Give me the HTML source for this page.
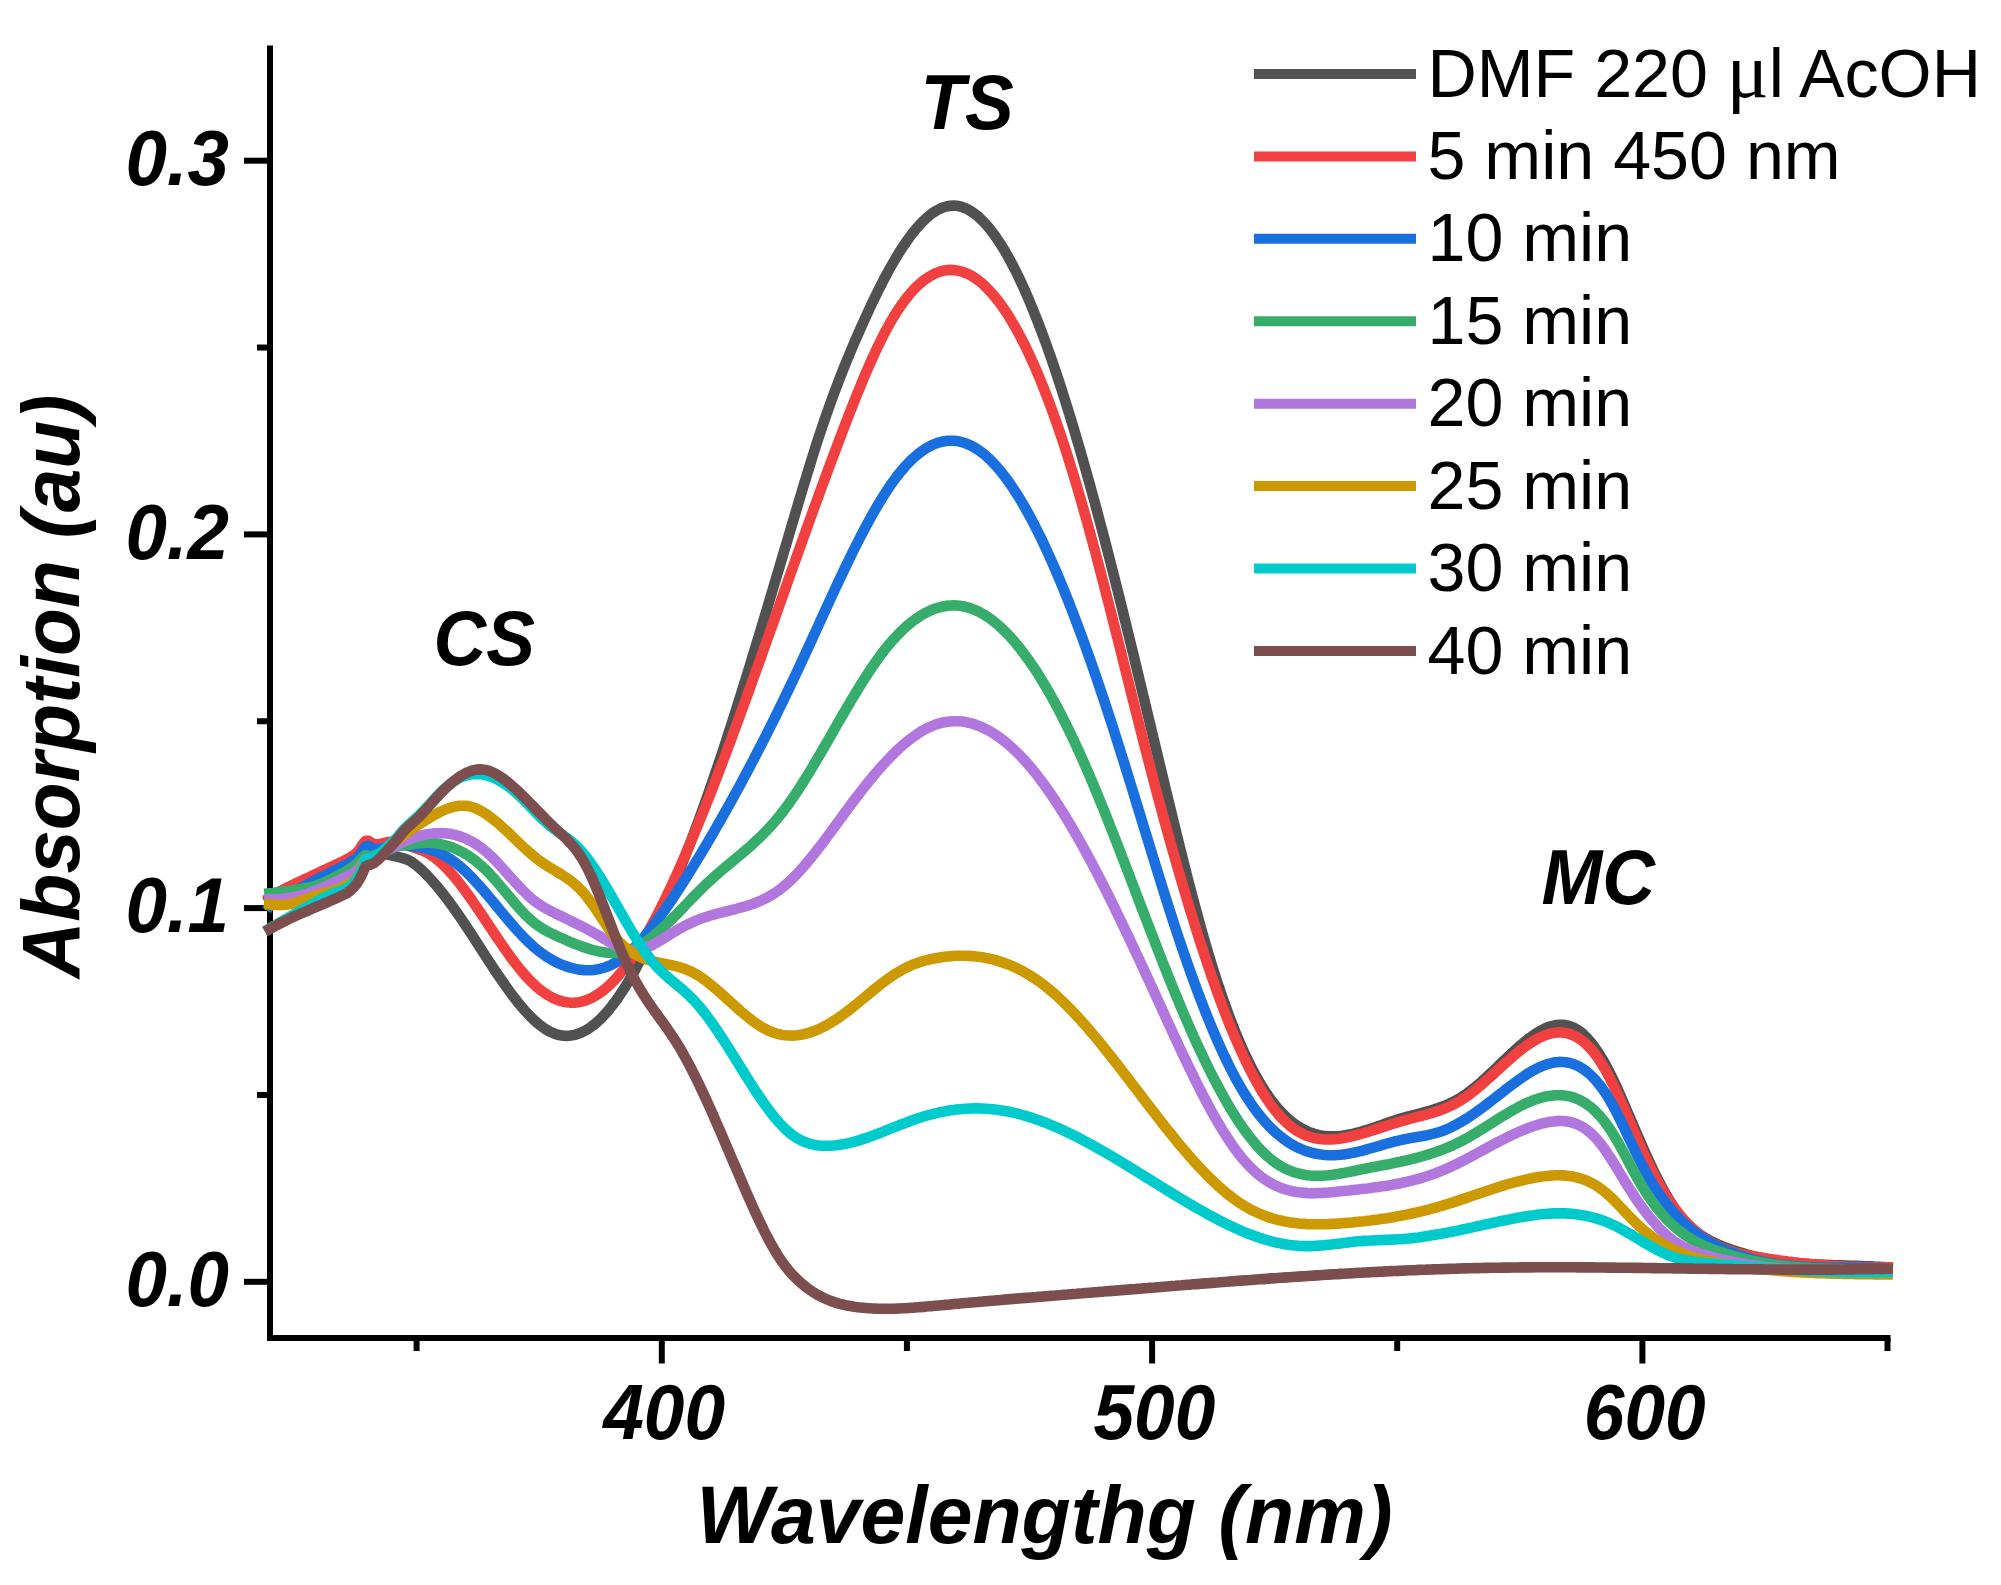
<!DOCTYPE html>
<html><head><meta charset="utf-8"><title>Absorption spectra</title>
<style>
html,body{margin:0;padding:0;background:#fff;}
svg{display:block;}
text{font-family:"Liberation Sans",sans-serif;fill:#000;}
.bi{font-weight:bold;font-style:italic;}
.tick{font-size:73px;}
.title{font-size:80px;}
.ann{font-size:73px;}
.leg{font-size:68.2px;}
.mu{font-family:"Liberation Serif",serif;}
.c{fill:none;stroke-width:10.6;stroke-linecap:square;stroke-linejoin:round;}
</style></head><body>
<svg width="2001" height="1585" viewBox="0 0 2001 1585">
<rect width="2001" height="1585" fill="#fff"/>

<g stroke="#000" stroke-width="6" fill="none" stroke-linecap="butt">
<path d="M270 45.5 V1341.0"/>
<path d="M267.0 1338 H1890.5"/>
<path d="M244 1281.8 H270"/>
<path d="M244 908.0999999999999 H270"/>
<path d="M244 534.4 H270"/>
<path d="M244 160.70000000000005 H270"/>
<path d="M257 1094.95 H270"/>
<path d="M257 721.2499999999999 H270"/>
<path d="M257 347.54999999999995 H270"/>
<path d="M661.8 1338 V1363.5"/>
<path d="M1152.1 1338 V1363.5"/>
<path d="M1642.4 1338 V1363.5"/>
<path d="M416.6 1338 V1351"/>
<path d="M906.9 1338 V1351"/>
<path d="M1397.2 1338 V1351"/>
<path d="M1887.5 1338 V1351"/>
</g>
<text class="bi" font-size="74.5" transform="translate(229 1306.1) scale(1 1.04)" text-anchor="end">0.0</text>
<text class="bi" font-size="74.5" transform="translate(229 932.4) scale(1 1.04)" text-anchor="end">0.1</text>
<text class="bi" font-size="74.5" transform="translate(229 558.7) scale(1 1.04)" text-anchor="end">0.2</text>
<text class="bi" font-size="74.5" transform="translate(229 185.0) scale(1 1.04)" text-anchor="end">0.3</text>
<text class="bi" font-size="73" transform="translate(664.1 1438.5) scale(1 1.06)" text-anchor="middle">400</text>
<text class="bi" font-size="73" transform="translate(1154.4 1438.5) scale(1 1.06)" text-anchor="middle">500</text>
<text class="bi" font-size="73" transform="translate(1644.7 1438.5) scale(1 1.06)" text-anchor="middle">600</text>
<text class="bi" font-size="80.5" transform="translate(1044.5 1543.2) scale(1 1.01)" text-anchor="middle">Wavelengthg (nm)</text>
<text class="bi" font-size="78.4" transform="translate(78.5 686.5) rotate(-90) scale(1 1.03)" text-anchor="middle">Absorption (au)</text>
<path class="c" stroke="#515151" d="M269.5 900.0 L272.5 898.4 L275.5 896.9 L278.5 895.6 L281.5 894.4 L284.5 893.5 L287.5 892.7 L290.5 891.8 L293.5 890.8 L296.5 889.5 L299.5 888.2 L302.5 886.8 L305.5 885.5 L308.5 884.2 L311.5 882.8 L314.5 881.5 L317.5 880.2 L320.5 878.8 L323.5 877.5 L326.5 876.1 L329.5 874.8 L332.5 873.5 L335.5 872.1 L338.5 870.8 L341.5 869.4 L344.5 868.0 L347.5 866.5 L350.5 865.0 L353.5 863.4 L356.5 861.7 L359.5 859.3 L362.5 856.5 L365.5 853.2 L368.5 852.9 L371.5 853.5 L374.5 853.5 L377.5 853.4 L380.5 853.4 L383.5 853.8 L386.5 854.4 L389.5 855.0 L392.5 855.6 L395.5 856.3 L398.5 857.0 L401.5 857.8 L404.5 858.7 L407.5 859.8 L410.5 861.3 L413.5 863.2 L416.5 865.4 L419.5 868.0 L422.5 870.7 L425.5 873.6 L428.5 876.7 L431.5 880.0 L434.5 883.4 L437.5 886.9 L440.5 890.6 L443.5 894.4 L446.5 898.3 L449.5 902.3 L452.5 906.4 L455.5 910.6 L458.5 914.9 L461.5 919.3 L464.5 923.8 L467.5 928.3 L470.5 932.8 L473.5 937.4 L476.5 942.0 L479.5 946.7 L482.5 951.3 L485.5 956.0 L488.5 960.6 L491.5 965.2 L494.5 969.7 L497.5 974.2 L500.5 978.6 L503.5 982.9 L506.5 987.2 L509.5 991.3 L512.5 995.4 L515.5 999.3 L518.5 1003.1 L521.5 1006.7 L524.5 1010.2 L527.5 1013.5 L530.5 1016.6 L533.5 1019.5 L536.5 1022.2 L539.5 1024.8 L542.5 1027.0 L545.5 1029.1 L548.5 1030.9 L551.5 1032.4 L554.5 1033.7 L557.5 1034.7 L560.5 1035.3 L563.5 1035.8 L566.5 1035.9 L569.5 1035.7 L572.5 1035.3 L575.5 1034.6 L578.5 1033.7 L581.5 1032.5 L584.5 1031.0 L587.5 1029.3 L590.5 1027.3 L593.5 1025.1 L596.5 1022.6 L599.5 1019.8 L602.5 1016.9 L605.5 1013.7 L608.5 1010.2 L611.5 1006.5 L614.5 1002.6 L617.5 998.5 L620.5 994.1 L623.5 989.5 L626.5 984.7 L629.5 979.7 L632.5 974.5 L635.5 969.1 L638.5 963.4 L641.5 957.6 L644.5 951.5 L647.5 945.3 L650.5 938.9 L653.5 932.3 L656.5 925.6 L659.5 918.8 L662.5 911.8 L665.5 904.7 L668.5 897.5 L671.5 890.2 L674.5 882.8 L677.5 875.4 L680.5 867.9 L683.5 860.3 L686.5 852.6 L689.5 844.8 L692.5 836.9 L695.5 828.9 L698.5 820.8 L701.5 812.6 L704.5 804.3 L707.5 795.9 L710.5 787.3 L713.5 778.6 L716.5 769.8 L719.5 760.9 L722.5 751.9 L725.5 742.8 L728.5 733.5 L731.5 724.2 L734.5 714.9 L737.5 705.4 L740.5 695.8 L743.5 686.2 L746.5 676.5 L749.5 666.8 L752.5 656.9 L755.5 647.1 L758.5 637.2 L761.5 627.2 L764.5 617.2 L767.5 607.2 L770.5 597.1 L773.5 587.1 L776.5 577.0 L779.5 566.8 L782.5 556.7 L785.5 546.6 L788.5 536.5 L791.5 526.3 L794.5 516.2 L797.5 506.1 L800.5 496.1 L803.5 486.1 L806.5 476.2 L809.5 466.4 L812.5 456.7 L815.5 447.2 L818.5 437.9 L821.5 428.9 L824.5 420.0 L827.5 411.4 L830.5 403.0 L833.5 394.8 L836.5 386.8 L839.5 378.9 L842.5 371.3 L845.5 363.8 L848.5 356.5 L851.5 349.3 L854.5 342.2 L857.5 335.3 L860.5 328.5 L863.5 321.8 L866.5 315.2 L869.5 308.7 L872.5 302.3 L875.5 296.1 L878.5 290.0 L881.5 284.1 L884.5 278.3 L887.5 272.7 L890.5 267.3 L893.5 262.0 L896.5 256.9 L899.5 252.0 L902.5 247.3 L905.5 242.9 L908.5 238.6 L911.5 234.6 L914.5 230.8 L917.5 227.2 L920.5 223.9 L923.5 220.8 L926.5 218.0 L929.5 215.4 L932.5 213.1 L935.5 211.2 L938.5 209.5 L941.5 208.1 L944.5 207.0 L947.5 206.2 L950.5 205.7 L953.5 205.6 L956.5 205.8 L959.5 206.3 L962.5 207.2 L965.5 208.3 L968.5 209.8 L971.5 211.6 L974.5 213.7 L977.5 216.0 L980.5 218.7 L983.5 221.7 L986.5 225.0 L989.5 228.5 L992.5 232.4 L995.5 236.5 L998.5 240.9 L1001.5 245.5 L1004.5 250.4 L1007.5 255.6 L1010.5 261.1 L1013.5 266.8 L1016.5 272.7 L1019.5 278.9 L1022.5 285.3 L1025.5 292.0 L1028.5 298.9 L1031.5 306.0 L1034.5 313.4 L1037.5 321.0 L1040.5 328.8 L1043.5 336.8 L1046.5 345.0 L1049.5 353.5 L1052.5 362.1 L1055.5 370.9 L1058.5 380.0 L1061.5 389.2 L1064.5 398.6 L1067.5 408.1 L1070.5 417.9 L1073.5 427.8 L1076.5 437.9 L1079.5 448.1 L1082.5 458.5 L1085.5 469.1 L1088.5 479.8 L1091.5 490.6 L1094.5 501.6 L1097.5 512.8 L1100.5 524.0 L1103.5 535.4 L1106.5 546.9 L1109.5 558.5 L1112.5 570.2 L1115.5 582.1 L1118.5 594.0 L1121.5 606.1 L1124.5 618.2 L1127.5 630.4 L1130.5 642.7 L1133.5 655.0 L1136.5 667.5 L1139.5 679.9 L1142.5 692.4 L1145.5 704.9 L1148.5 717.5 L1151.5 730.0 L1154.5 742.5 L1157.5 755.1 L1160.5 767.6 L1163.5 780.1 L1166.5 792.5 L1169.5 804.9 L1172.5 817.3 L1175.5 829.6 L1178.5 841.7 L1181.5 853.8 L1184.5 865.7 L1187.5 877.5 L1190.5 889.1 L1193.5 900.5 L1196.5 911.7 L1199.5 922.7 L1202.5 933.4 L1205.5 943.9 L1208.5 954.1 L1211.5 964.0 L1214.5 973.5 L1217.5 982.8 L1220.5 991.8 L1223.5 1000.5 L1226.5 1008.9 L1229.5 1017.0 L1232.5 1024.9 L1235.5 1032.4 L1238.5 1039.6 L1241.5 1046.6 L1244.5 1053.2 L1247.5 1059.6 L1250.5 1065.7 L1253.5 1071.5 L1256.5 1077.0 L1259.5 1082.2 L1262.5 1087.2 L1265.5 1091.9 L1268.5 1096.3 L1271.5 1100.4 L1274.5 1104.3 L1277.5 1107.9 L1280.5 1111.3 L1283.5 1114.4 L1286.5 1117.3 L1289.5 1119.9 L1292.5 1122.4 L1295.5 1124.6 L1298.5 1126.6 L1301.5 1128.4 L1304.5 1130.0 L1307.5 1131.4 L1310.5 1132.6 L1313.5 1133.6 L1316.5 1134.4 L1319.5 1135.1 L1322.5 1135.7 L1325.5 1136.0 L1328.5 1136.3 L1331.5 1136.4 L1334.5 1136.3 L1337.5 1136.2 L1340.5 1135.9 L1343.5 1135.6 L1346.5 1135.1 L1349.5 1134.6 L1352.5 1133.9 L1355.5 1133.2 L1358.5 1132.4 L1361.5 1131.6 L1364.5 1130.7 L1367.5 1129.8 L1370.5 1128.8 L1373.5 1127.8 L1376.5 1126.8 L1379.5 1125.7 L1382.5 1124.7 L1385.5 1123.6 L1388.5 1122.6 L1391.5 1121.6 L1394.5 1120.6 L1397.5 1119.6 L1400.5 1118.7 L1403.5 1117.8 L1406.5 1116.9 L1409.5 1116.1 L1412.5 1115.3 L1415.5 1114.6 L1418.5 1113.8 L1421.5 1113.0 L1424.5 1112.2 L1427.5 1111.4 L1430.5 1110.5 L1433.5 1109.6 L1436.5 1108.7 L1439.5 1107.6 L1442.5 1106.5 L1445.5 1105.3 L1448.5 1104.0 L1451.5 1102.7 L1454.5 1101.1 L1457.5 1099.5 L1460.5 1097.7 L1463.5 1095.8 L1466.5 1093.8 L1469.5 1091.6 L1472.5 1089.2 L1475.5 1086.8 L1478.5 1084.3 L1481.5 1081.7 L1484.5 1079.0 L1487.5 1076.2 L1490.5 1073.4 L1493.5 1070.6 L1496.5 1067.7 L1499.5 1064.8 L1502.5 1061.9 L1505.5 1059.1 L1508.5 1056.2 L1511.5 1053.4 L1514.5 1050.7 L1517.5 1048.0 L1520.5 1045.3 L1523.5 1042.8 L1526.5 1040.4 L1529.5 1038.0 L1532.5 1035.9 L1535.5 1033.8 L1538.5 1031.9 L1541.5 1030.2 L1544.5 1028.7 L1547.5 1027.4 L1550.5 1026.4 L1553.5 1025.6 L1556.5 1025.0 L1559.5 1024.7 L1562.5 1024.8 L1565.5 1025.1 L1568.5 1025.7 L1571.5 1026.7 L1574.5 1028.1 L1577.5 1029.8 L1580.5 1031.9 L1583.5 1034.4 L1586.5 1037.4 L1589.5 1040.7 L1592.5 1044.4 L1595.5 1048.4 L1598.5 1052.9 L1601.5 1057.7 L1604.5 1062.8 L1607.5 1068.3 L1610.5 1074.2 L1613.5 1080.4 L1616.5 1086.8 L1619.5 1093.5 L1622.5 1100.4 L1625.5 1107.4 L1628.5 1114.4 L1631.5 1121.4 L1634.5 1128.4 L1637.5 1135.3 L1640.5 1142.1 L1643.5 1148.9 L1646.5 1155.6 L1649.5 1162.1 L1652.5 1168.5 L1655.5 1174.7 L1658.5 1180.6 L1661.5 1186.4 L1664.5 1191.9 L1667.5 1197.1 L1670.5 1202.1 L1673.5 1206.7 L1676.5 1211.0 L1679.5 1215.0 L1682.5 1218.6 L1685.5 1222.0 L1688.5 1225.1 L1691.5 1227.9 L1694.5 1230.5 L1697.5 1232.8 L1700.5 1235.0 L1703.5 1236.9 L1706.5 1238.7 L1709.5 1240.4 L1712.5 1241.9 L1715.5 1243.3 L1718.5 1244.7 L1721.5 1245.9 L1724.5 1247.1 L1727.5 1248.3 L1730.5 1249.3 L1733.5 1250.4 L1736.5 1251.4 L1739.5 1252.3 L1742.5 1253.2 L1745.5 1254.1 L1748.5 1254.9 L1751.5 1255.7 L1754.5 1256.4 L1757.5 1257.1 L1760.5 1257.7 L1763.5 1258.3 L1766.5 1258.9 L1769.5 1259.5 L1772.5 1260.0 L1775.5 1260.5 L1778.5 1260.9 L1781.5 1261.3 L1784.5 1261.7 L1787.5 1262.1 L1790.5 1262.4 L1793.5 1262.7 L1796.5 1263.0 L1799.5 1263.3 L1802.5 1263.5 L1805.5 1263.7 L1808.5 1264.0 L1811.5 1264.2 L1814.5 1264.3 L1817.5 1264.5 L1820.5 1264.6 L1823.5 1264.8 L1826.5 1264.9 L1829.5 1265.0 L1832.5 1265.1 L1835.5 1265.2 L1838.5 1265.3 L1841.5 1265.4 L1844.5 1265.5 L1847.5 1265.6 L1850.5 1265.7 L1853.5 1265.8 L1856.5 1265.9 L1859.5 1266.0 L1862.5 1266.1 L1865.5 1266.2 L1868.5 1266.3 L1871.5 1266.4 L1874.5 1266.6 L1877.5 1266.7 L1880.5 1266.9 L1883.5 1267.0 L1886.5 1267.2 L1887.6 1267.3"/>
<path class="c" stroke="#F14040" d="M269.5 897.5 L272.5 895.5 L275.5 893.7 L278.5 892.0 L281.5 890.5 L284.5 889.0 L287.5 887.4 L290.5 886.0 L293.5 884.5 L296.5 883.1 L299.5 881.7 L302.5 880.3 L305.5 878.9 L308.5 877.5 L311.5 876.0 L314.5 874.6 L317.5 873.2 L320.5 871.8 L323.5 870.4 L326.5 869.0 L329.5 867.6 L332.5 866.2 L335.5 864.8 L338.5 863.4 L341.5 862.0 L344.5 860.6 L347.5 859.0 L350.5 857.2 L353.5 855.2 L356.5 853.0 L359.5 849.5 L362.5 844.5 L365.5 840.7 L368.5 840.9 L371.5 842.8 L374.5 844.3 L377.5 844.3 L380.5 844.0 L383.5 843.1 L386.5 842.3 L389.5 841.9 L392.5 841.8 L395.5 842.1 L398.5 842.6 L401.5 843.3 L404.5 844.3 L407.5 845.4 L410.5 846.5 L413.5 847.5 L416.5 848.5 L419.5 849.5 L422.5 850.6 L425.5 851.9 L428.5 853.5 L431.5 855.4 L434.5 857.5 L437.5 859.9 L440.5 862.4 L443.5 865.2 L446.5 868.2 L449.5 871.4 L452.5 874.8 L455.5 878.3 L458.5 882.0 L461.5 885.9 L464.5 889.9 L467.5 894.0 L470.5 898.2 L473.5 902.5 L476.5 906.9 L479.5 911.3 L482.5 915.8 L485.5 920.3 L488.5 924.8 L491.5 929.3 L494.5 933.8 L497.5 938.2 L500.5 942.6 L503.5 947.0 L506.5 951.3 L509.5 955.5 L512.5 959.5 L515.5 963.5 L518.5 967.3 L521.5 971.0 L524.5 974.5 L527.5 977.9 L530.5 981.0 L533.5 983.9 L536.5 986.7 L539.5 989.2 L542.5 991.5 L545.5 993.6 L548.5 995.5 L551.5 997.2 L554.5 998.7 L557.5 999.9 L560.5 1000.9 L563.5 1001.7 L566.5 1002.3 L569.5 1002.6 L572.5 1002.7 L575.5 1002.6 L578.5 1002.2 L581.5 1001.6 L584.5 1000.8 L587.5 999.7 L590.5 998.4 L593.5 996.9 L596.5 995.2 L599.5 993.2 L602.5 991.0 L605.5 988.6 L608.5 986.0 L611.5 983.1 L614.5 980.1 L617.5 976.8 L620.5 973.3 L623.5 969.5 L626.5 965.6 L629.5 961.5 L632.5 957.1 L635.5 952.6 L638.5 947.9 L641.5 943.0 L644.5 938.0 L647.5 932.8 L650.5 927.4 L653.5 921.9 L656.5 916.2 L659.5 910.4 L662.5 904.4 L665.5 898.3 L668.5 892.1 L671.5 885.7 L674.5 879.2 L677.5 872.6 L680.5 865.9 L683.5 859.1 L686.5 852.2 L689.5 845.1 L692.5 838.0 L695.5 830.8 L698.5 823.5 L701.5 816.1 L704.5 808.6 L707.5 801.1 L710.5 793.5 L713.5 785.8 L716.5 778.0 L719.5 770.2 L722.5 762.3 L725.5 754.4 L728.5 746.4 L731.5 738.3 L734.5 730.2 L737.5 722.1 L740.5 713.9 L743.5 705.7 L746.5 697.4 L749.5 689.1 L752.5 680.8 L755.5 672.5 L758.5 664.1 L761.5 655.7 L764.5 647.3 L767.5 638.8 L770.5 630.4 L773.5 621.9 L776.5 613.5 L779.5 605.0 L782.5 596.6 L785.5 588.1 L788.5 579.6 L791.5 571.2 L794.5 562.7 L797.5 554.3 L800.5 545.9 L803.5 537.5 L806.5 529.1 L809.5 520.8 L812.5 512.5 L815.5 504.2 L818.5 496.0 L821.5 487.7 L824.5 479.6 L827.5 471.4 L830.5 463.4 L833.5 455.3 L836.5 447.3 L839.5 439.4 L842.5 431.5 L845.5 423.7 L848.5 415.9 L851.5 408.3 L854.5 400.7 L857.5 393.2 L860.5 385.9 L863.5 378.6 L866.5 371.6 L869.5 364.7 L872.5 358.0 L875.5 351.4 L878.5 345.1 L881.5 339.0 L884.5 333.1 L887.5 327.5 L890.5 322.2 L893.5 317.1 L896.5 312.3 L899.5 307.7 L902.5 303.4 L905.5 299.4 L908.5 295.6 L911.5 292.1 L914.5 288.8 L917.5 285.8 L920.5 283.1 L923.5 280.6 L926.5 278.4 L929.5 276.5 L932.5 274.8 L935.5 273.3 L938.5 272.1 L941.5 271.2 L944.5 270.5 L947.5 270.1 L950.5 269.9 L953.5 270.0 L956.5 270.4 L959.5 271.0 L962.5 271.8 L965.5 272.9 L968.5 274.3 L971.5 275.8 L974.5 277.7 L977.5 279.8 L980.5 282.1 L983.5 284.7 L986.5 287.6 L989.5 290.7 L992.5 294.0 L995.5 297.6 L998.5 301.4 L1001.5 305.5 L1004.5 309.8 L1007.5 314.3 L1010.5 319.1 L1013.5 324.2 L1016.5 329.4 L1019.5 335.0 L1022.5 340.7 L1025.5 346.7 L1028.5 353.0 L1031.5 359.5 L1034.5 366.2 L1037.5 373.1 L1040.5 380.3 L1043.5 387.8 L1046.5 395.5 L1049.5 403.4 L1052.5 411.5 L1055.5 419.9 L1058.5 428.5 L1061.5 437.3 L1064.5 446.4 L1067.5 455.7 L1070.5 465.3 L1073.5 475.0 L1076.5 485.0 L1079.5 495.3 L1082.5 505.7 L1085.5 516.3 L1088.5 527.1 L1091.5 538.1 L1094.5 549.2 L1097.5 560.5 L1100.5 571.9 L1103.5 583.5 L1106.5 595.1 L1109.5 606.8 L1112.5 618.6 L1115.5 630.4 L1118.5 642.3 L1121.5 654.3 L1124.5 666.2 L1127.5 678.2 L1130.5 690.1 L1133.5 702.1 L1136.5 714.0 L1139.5 725.8 L1142.5 737.6 L1145.5 749.4 L1148.5 761.0 L1151.5 772.5 L1154.5 784.0 L1157.5 795.3 L1160.5 806.4 L1163.5 817.5 L1166.5 828.4 L1169.5 839.2 L1172.5 849.9 L1175.5 860.4 L1178.5 870.8 L1181.5 881.1 L1184.5 891.2 L1187.5 901.2 L1190.5 911.1 L1193.5 920.8 L1196.5 930.4 L1199.5 939.8 L1202.5 949.1 L1205.5 958.2 L1208.5 967.1 L1211.5 975.8 L1214.5 984.4 L1217.5 992.8 L1220.5 1000.9 L1223.5 1008.9 L1226.5 1016.6 L1229.5 1024.2 L1232.5 1031.5 L1235.5 1038.6 L1238.5 1045.5 L1241.5 1052.1 L1244.5 1058.5 L1247.5 1064.7 L1250.5 1070.7 L1253.5 1076.4 L1256.5 1081.9 L1259.5 1087.2 L1262.5 1092.2 L1265.5 1096.9 L1268.5 1101.4 L1271.5 1105.7 L1274.5 1109.6 L1277.5 1113.3 L1280.5 1116.8 L1283.5 1119.9 L1286.5 1122.8 L1289.5 1125.4 L1292.5 1127.8 L1295.5 1129.9 L1298.5 1131.7 L1301.5 1133.4 L1304.5 1134.8 L1307.5 1136.0 L1310.5 1137.0 L1313.5 1137.8 L1316.5 1138.5 L1319.5 1139.0 L1322.5 1139.3 L1325.5 1139.5 L1328.5 1139.5 L1331.5 1139.4 L1334.5 1139.2 L1337.5 1138.9 L1340.5 1138.5 L1343.5 1138.0 L1346.5 1137.5 L1349.5 1136.8 L1352.5 1136.1 L1355.5 1135.4 L1358.5 1134.6 L1361.5 1133.7 L1364.5 1132.9 L1367.5 1132.0 L1370.5 1131.0 L1373.5 1130.1 L1376.5 1129.1 L1379.5 1128.1 L1382.5 1127.1 L1385.5 1126.1 L1388.5 1125.2 L1391.5 1124.2 L1394.5 1123.3 L1397.5 1122.3 L1400.5 1121.4 L1403.5 1120.6 L1406.5 1119.8 L1409.5 1119.0 L1412.5 1118.2 L1415.5 1117.4 L1418.5 1116.7 L1421.5 1115.9 L1424.5 1115.1 L1427.5 1114.2 L1430.5 1113.4 L1433.5 1112.5 L1436.5 1111.5 L1439.5 1110.4 L1442.5 1109.3 L1445.5 1108.1 L1448.5 1106.8 L1451.5 1105.4 L1454.5 1103.9 L1457.5 1102.3 L1460.5 1100.5 L1463.5 1098.6 L1466.5 1096.6 L1469.5 1094.4 L1472.5 1092.1 L1475.5 1089.8 L1478.5 1087.3 L1481.5 1084.7 L1484.5 1082.1 L1487.5 1079.4 L1490.5 1076.7 L1493.5 1074.0 L1496.5 1071.2 L1499.5 1068.5 L1502.5 1065.7 L1505.5 1063.0 L1508.5 1060.3 L1511.5 1057.7 L1514.5 1055.1 L1517.5 1052.6 L1520.5 1050.2 L1523.5 1047.9 L1526.5 1045.7 L1529.5 1043.6 L1532.5 1041.7 L1535.5 1039.9 L1538.5 1038.2 L1541.5 1036.8 L1544.5 1035.5 L1547.5 1034.4 L1550.5 1033.6 L1553.5 1032.9 L1556.5 1032.5 L1559.5 1032.4 L1562.5 1032.5 L1565.5 1032.9 L1568.5 1033.6 L1571.5 1034.6 L1574.5 1035.9 L1577.5 1037.5 L1580.5 1039.4 L1583.5 1041.7 L1586.5 1044.4 L1589.5 1047.4 L1592.5 1050.8 L1595.5 1054.6 L1598.5 1058.8 L1601.5 1063.4 L1604.5 1068.4 L1607.5 1073.8 L1610.5 1079.5 L1613.5 1085.5 L1616.5 1091.8 L1619.5 1098.3 L1622.5 1105.1 L1625.5 1111.9 L1628.5 1118.8 L1631.5 1125.8 L1634.5 1132.8 L1637.5 1139.7 L1640.5 1146.5 L1643.5 1153.1 L1646.5 1159.6 L1649.5 1165.8 L1652.5 1171.9 L1655.5 1177.7 L1658.5 1183.2 L1661.5 1188.4 L1664.5 1193.4 L1667.5 1198.1 L1670.5 1202.6 L1673.5 1206.8 L1676.5 1210.8 L1679.5 1214.6 L1682.5 1218.1 L1685.5 1221.5 L1688.5 1224.6 L1691.5 1227.5 L1694.5 1230.2 L1697.5 1232.8 L1700.5 1235.1 L1703.5 1237.3 L1706.5 1239.4 L1709.5 1241.3 L1712.5 1243.0 L1715.5 1244.6 L1718.5 1246.1 L1721.5 1247.5 L1724.5 1248.7 L1727.5 1249.9 L1730.5 1250.9 L1733.5 1251.9 L1736.5 1252.7 L1739.5 1253.5 L1742.5 1254.2 L1745.5 1254.9 L1748.5 1255.5 L1751.5 1256.1 L1754.5 1256.6 L1757.5 1257.1 L1760.5 1257.6 L1763.5 1258.1 L1766.5 1258.5 L1769.5 1259.0 L1772.5 1259.4 L1775.5 1259.8 L1778.5 1260.3 L1781.5 1260.7 L1784.5 1261.1 L1787.5 1261.5 L1790.5 1261.8 L1793.5 1262.2 L1796.5 1262.5 L1799.5 1262.9 L1802.5 1263.2 L1805.5 1263.5 L1808.5 1263.8 L1811.5 1264.1 L1814.5 1264.4 L1817.5 1264.7 L1820.5 1265.0 L1823.5 1265.2 L1826.5 1265.4 L1829.5 1265.7 L1832.5 1265.9 L1835.5 1266.1 L1838.5 1266.3 L1841.5 1266.4 L1844.5 1266.6 L1847.5 1266.7 L1850.5 1266.9 L1853.5 1267.0 L1856.5 1267.1 L1859.5 1267.2 L1862.5 1267.3 L1865.5 1267.3 L1868.5 1267.4 L1871.5 1267.4 L1874.5 1267.5 L1877.5 1267.5 L1880.5 1267.5 L1883.5 1267.4 L1886.5 1267.4 L1887.6 1267.4"/>
<path class="c" stroke="#1A6FDF" d="M269.5 906.0 L272.5 901.5 L275.5 898.9 L278.5 897.2 L281.5 895.9 L284.5 894.9 L287.5 894.0 L290.5 893.1 L293.5 891.9 L296.5 890.4 L299.5 888.8 L302.5 887.2 L305.5 885.5 L308.5 883.8 L311.5 882.2 L314.5 880.6 L317.5 879.0 L320.5 877.5 L323.5 876.1 L326.5 874.6 L329.5 873.1 L332.5 871.6 L335.5 870.1 L338.5 868.6 L341.5 867.1 L344.5 865.6 L347.5 863.9 L350.5 862.3 L353.5 860.5 L356.5 858.6 L359.5 855.1 L362.5 850.6 L365.5 846.5 L368.5 845.9 L371.5 847.9 L374.5 849.4 L377.5 849.1 L380.5 848.6 L383.5 847.8 L386.5 846.9 L389.5 846.1 L392.5 845.6 L395.5 845.2 L398.5 845.0 L401.5 845.0 L404.5 845.2 L407.5 845.5 L410.5 845.9 L413.5 846.3 L416.5 846.7 L419.5 847.1 L422.5 847.7 L425.5 848.3 L428.5 849.1 L431.5 849.9 L434.5 851.0 L437.5 852.1 L440.5 853.5 L443.5 855.0 L446.5 856.7 L449.5 858.5 L452.5 860.5 L455.5 862.7 L458.5 865.1 L461.5 867.6 L464.5 870.4 L467.5 873.2 L470.5 876.2 L473.5 879.4 L476.5 882.6 L479.5 885.9 L482.5 889.3 L485.5 892.8 L488.5 896.4 L491.5 899.9 L494.5 903.5 L497.5 907.2 L500.5 910.8 L503.5 914.4 L506.5 918.0 L509.5 921.5 L512.5 925.0 L515.5 928.4 L518.5 931.7 L521.5 935.0 L524.5 938.1 L527.5 941.1 L530.5 943.9 L533.5 946.7 L536.5 949.2 L539.5 951.6 L542.5 953.8 L545.5 955.9 L548.5 957.8 L551.5 959.6 L554.5 961.3 L557.5 962.8 L560.5 964.1 L563.5 965.3 L566.5 966.4 L569.5 967.4 L572.5 968.2 L575.5 968.9 L578.5 969.5 L581.5 969.9 L584.5 970.1 L587.5 970.2 L590.5 970.2 L593.5 969.9 L596.5 969.5 L599.5 969.0 L602.5 968.2 L605.5 967.2 L608.5 966.1 L611.5 964.7 L614.5 963.1 L617.5 961.3 L620.5 959.3 L623.5 957.1 L626.5 954.6 L629.5 952.0 L632.5 949.2 L635.5 946.3 L638.5 943.1 L641.5 939.8 L644.5 936.4 L647.5 932.8 L650.5 929.1 L653.5 925.3 L656.5 921.3 L659.5 917.3 L662.5 913.1 L665.5 908.9 L668.5 904.6 L671.5 900.2 L674.5 895.7 L677.5 891.1 L680.5 886.5 L683.5 881.8 L686.5 877.1 L689.5 872.3 L692.5 867.5 L695.5 862.6 L698.5 857.7 L701.5 852.7 L704.5 847.7 L707.5 842.6 L710.5 837.5 L713.5 832.4 L716.5 827.2 L719.5 822.0 L722.5 816.7 L725.5 811.4 L728.5 806.0 L731.5 800.6 L734.5 795.2 L737.5 789.7 L740.5 784.2 L743.5 778.6 L746.5 773.0 L749.5 767.3 L752.5 761.6 L755.5 755.8 L758.5 750.0 L761.5 744.2 L764.5 738.3 L767.5 732.4 L770.5 726.4 L773.5 720.4 L776.5 714.3 L779.5 708.2 L782.5 702.1 L785.5 695.9 L788.5 689.6 L791.5 683.4 L794.5 677.0 L797.5 670.7 L800.5 664.2 L803.5 657.8 L806.5 651.3 L809.5 644.8 L812.5 638.2 L815.5 631.6 L818.5 625.1 L821.5 618.5 L824.5 611.9 L827.5 605.4 L830.5 598.9 L833.5 592.4 L836.5 585.9 L839.5 579.5 L842.5 573.2 L845.5 566.9 L848.5 560.7 L851.5 554.5 L854.5 548.5 L857.5 542.5 L860.5 536.6 L863.5 530.9 L866.5 525.2 L869.5 519.7 L872.5 514.3 L875.5 509.1 L878.5 504.0 L881.5 499.1 L884.5 494.3 L887.5 489.7 L890.5 485.2 L893.5 481.0 L896.5 476.9 L899.5 473.1 L902.5 469.5 L905.5 466.0 L908.5 462.8 L911.5 459.8 L914.5 457.1 L917.5 454.5 L920.5 452.1 L923.5 450.0 L926.5 448.1 L929.5 446.4 L932.5 444.9 L935.5 443.7 L938.5 442.6 L941.5 441.8 L944.5 441.2 L947.5 440.8 L950.5 440.7 L953.5 440.8 L956.5 441.1 L959.5 441.6 L962.5 442.3 L965.5 443.3 L968.5 444.5 L971.5 445.9 L974.5 447.5 L977.5 449.4 L980.5 451.5 L983.5 453.8 L986.5 456.3 L989.5 459.1 L992.5 462.1 L995.5 465.3 L998.5 468.7 L1001.5 472.3 L1004.5 476.2 L1007.5 480.2 L1010.5 484.4 L1013.5 488.9 L1016.5 493.5 L1019.5 498.3 L1022.5 503.3 L1025.5 508.5 L1028.5 513.9 L1031.5 519.5 L1034.5 525.2 L1037.5 531.1 L1040.5 537.2 L1043.5 543.4 L1046.5 549.9 L1049.5 556.4 L1052.5 563.2 L1055.5 570.0 L1058.5 577.1 L1061.5 584.2 L1064.5 591.6 L1067.5 599.0 L1070.5 606.6 L1073.5 614.4 L1076.5 622.3 L1079.5 630.3 L1082.5 638.4 L1085.5 646.7 L1088.5 655.1 L1091.5 663.6 L1094.5 672.2 L1097.5 680.9 L1100.5 689.8 L1103.5 698.7 L1106.5 707.8 L1109.5 717.0 L1112.5 726.2 L1115.5 735.6 L1118.5 745.1 L1121.5 754.6 L1124.5 764.2 L1127.5 773.8 L1130.5 783.5 L1133.5 793.3 L1136.5 803.1 L1139.5 812.9 L1142.5 822.7 L1145.5 832.5 L1148.5 842.3 L1151.5 852.1 L1154.5 861.8 L1157.5 871.5 L1160.5 881.2 L1163.5 890.8 L1166.5 900.3 L1169.5 909.8 L1172.5 919.1 L1175.5 928.3 L1178.5 937.4 L1181.5 946.3 L1184.5 955.1 L1187.5 963.7 L1190.5 972.1 L1193.5 980.4 L1196.5 988.6 L1199.5 996.5 L1202.5 1004.3 L1205.5 1012.0 L1208.5 1019.4 L1211.5 1026.7 L1214.5 1033.9 L1217.5 1040.8 L1220.5 1047.5 L1223.5 1054.1 L1226.5 1060.4 L1229.5 1066.5 L1232.5 1072.4 L1235.5 1078.1 L1238.5 1083.5 L1241.5 1088.7 L1244.5 1093.7 L1247.5 1098.4 L1250.5 1102.9 L1253.5 1107.2 L1256.5 1111.3 L1259.5 1115.1 L1262.5 1118.8 L1265.5 1122.2 L1268.5 1125.5 L1271.5 1128.5 L1274.5 1131.4 L1277.5 1134.0 L1280.5 1136.5 L1283.5 1138.8 L1286.5 1141.0 L1289.5 1143.0 L1292.5 1144.8 L1295.5 1146.4 L1298.5 1147.9 L1301.5 1149.2 L1304.5 1150.4 L1307.5 1151.5 L1310.5 1152.4 L1313.5 1153.2 L1316.5 1153.8 L1319.5 1154.3 L1322.5 1154.7 L1325.5 1155.0 L1328.5 1155.2 L1331.5 1155.2 L1334.5 1155.2 L1337.5 1155.0 L1340.5 1154.8 L1343.5 1154.4 L1346.5 1154.0 L1349.5 1153.5 L1352.5 1152.9 L1355.5 1152.3 L1358.5 1151.6 L1361.5 1150.9 L1364.5 1150.1 L1367.5 1149.2 L1370.5 1148.4 L1373.5 1147.5 L1376.5 1146.6 L1379.5 1145.8 L1382.5 1144.9 L1385.5 1144.0 L1388.5 1143.1 L1391.5 1142.3 L1394.5 1141.5 L1397.5 1140.8 L1400.5 1140.1 L1403.5 1139.5 L1406.5 1138.9 L1409.5 1138.3 L1412.5 1137.8 L1415.5 1137.3 L1418.5 1136.8 L1421.5 1136.3 L1424.5 1135.7 L1427.5 1135.1 L1430.5 1134.4 L1433.5 1133.7 L1436.5 1132.9 L1439.5 1132.0 L1442.5 1130.9 L1445.5 1129.8 L1448.5 1128.5 L1451.5 1127.1 L1454.5 1125.6 L1457.5 1123.9 L1460.5 1122.2 L1463.5 1120.4 L1466.5 1118.6 L1469.5 1116.6 L1472.5 1114.6 L1475.5 1112.5 L1478.5 1110.4 L1481.5 1108.2 L1484.5 1106.0 L1487.5 1103.7 L1490.5 1101.4 L1493.5 1099.1 L1496.5 1096.8 L1499.5 1094.4 L1502.5 1092.1 L1505.5 1089.8 L1508.5 1087.4 L1511.5 1085.1 L1514.5 1082.9 L1517.5 1080.7 L1520.5 1078.6 L1523.5 1076.5 L1526.5 1074.5 L1529.5 1072.6 L1532.5 1070.9 L1535.5 1069.2 L1538.5 1067.7 L1541.5 1066.4 L1544.5 1065.2 L1547.5 1064.1 L1550.5 1063.3 L1553.5 1062.6 L1556.5 1062.2 L1559.5 1061.9 L1562.5 1062.0 L1565.5 1062.2 L1568.5 1062.7 L1571.5 1063.4 L1574.5 1064.5 L1577.5 1065.8 L1580.5 1067.4 L1583.5 1069.3 L1586.5 1071.5 L1589.5 1074.0 L1592.5 1076.8 L1595.5 1080.0 L1598.5 1083.6 L1601.5 1087.4 L1604.5 1091.7 L1607.5 1096.3 L1610.5 1101.3 L1613.5 1106.6 L1616.5 1112.3 L1619.5 1118.3 L1622.5 1124.5 L1625.5 1130.8 L1628.5 1137.2 L1631.5 1143.5 L1634.5 1149.8 L1637.5 1156.0 L1640.5 1162.0 L1643.5 1167.8 L1646.5 1173.3 L1649.5 1178.6 L1652.5 1183.6 L1655.5 1188.3 L1658.5 1192.9 L1661.5 1197.2 L1664.5 1201.3 L1667.5 1205.2 L1670.5 1208.9 L1673.5 1212.4 L1676.5 1215.7 L1679.5 1218.8 L1682.5 1221.8 L1685.5 1224.6 L1688.5 1227.2 L1691.5 1229.7 L1694.5 1232.1 L1697.5 1234.3 L1700.5 1236.4 L1703.5 1238.4 L1706.5 1240.3 L1709.5 1242.0 L1712.5 1243.7 L1715.5 1245.3 L1718.5 1246.8 L1721.5 1248.2 L1724.5 1249.6 L1727.5 1250.9 L1730.5 1252.1 L1733.5 1253.2 L1736.5 1254.3 L1739.5 1255.4 L1742.5 1256.4 L1745.5 1257.3 L1748.5 1258.2 L1751.5 1259.0 L1754.5 1259.8 L1757.5 1260.5 L1760.5 1261.2 L1763.5 1261.8 L1766.5 1262.4 L1769.5 1263.0 L1772.5 1263.5 L1775.5 1264.0 L1778.5 1264.4 L1781.5 1264.8 L1784.5 1265.1 L1787.5 1265.5 L1790.5 1265.8 L1793.5 1266.1 L1796.5 1266.3 L1799.5 1266.5 L1802.5 1266.7 L1805.5 1266.9 L1808.5 1267.0 L1811.5 1267.2 L1814.5 1267.3 L1817.5 1267.4 L1820.5 1267.5 L1823.5 1267.5 L1826.5 1267.6 L1829.5 1267.7 L1832.5 1267.7 L1835.5 1267.7 L1838.5 1267.8 L1841.5 1267.8 L1844.5 1267.8 L1847.5 1267.9 L1850.5 1267.9 L1853.5 1268.0 L1856.5 1268.0 L1859.5 1268.1 L1862.5 1268.1 L1865.5 1268.2 L1868.5 1268.3 L1871.5 1268.4 L1874.5 1268.5 L1877.5 1268.6 L1880.5 1268.8 L1883.5 1268.9 L1886.5 1269.1 L1887.6 1269.2"/>
<path class="c" stroke="#37AD6B" d="M269.5 893.3 L272.5 893.0 L275.5 892.6 L278.5 892.2 L281.5 891.8 L284.5 891.4 L287.5 891.0 L290.5 890.5 L293.5 890.1 L296.5 889.6 L299.5 889.2 L302.5 888.6 L305.5 888.1 L308.5 887.5 L311.5 886.8 L314.5 886.0 L317.5 885.1 L320.5 884.0 L323.5 882.7 L326.5 881.3 L329.5 879.8 L332.5 878.3 L335.5 876.8 L338.5 875.2 L341.5 873.7 L344.5 872.1 L347.5 870.4 L350.5 868.5 L353.5 866.4 L356.5 864.1 L359.5 860.8 L362.5 857.5 L365.5 855.2 L368.5 856.0 L371.5 856.2 L374.5 855.1 L377.5 854.0 L380.5 852.8 L383.5 851.6 L386.5 850.3 L389.5 849.0 L392.5 847.9 L395.5 846.8 L398.5 846.1 L401.5 845.5 L404.5 845.2 L407.5 844.8 L410.5 844.5 L413.5 844.0 L416.5 843.6 L419.5 843.2 L422.5 842.9 L425.5 842.7 L428.5 842.7 L431.5 842.9 L434.5 843.1 L437.5 843.6 L440.5 844.1 L443.5 844.8 L446.5 845.6 L449.5 846.5 L452.5 847.6 L455.5 848.8 L458.5 850.2 L461.5 851.7 L464.5 853.4 L467.5 855.2 L470.5 857.2 L473.5 859.3 L476.5 861.6 L479.5 864.1 L482.5 866.8 L485.5 869.6 L488.5 872.6 L491.5 875.8 L494.5 879.1 L497.5 882.6 L500.5 886.1 L503.5 889.7 L506.5 893.3 L509.5 896.9 L512.5 900.5 L515.5 904.0 L518.5 907.4 L521.5 910.7 L524.5 913.9 L527.5 916.9 L530.5 919.7 L533.5 922.3 L536.5 924.6 L539.5 926.7 L542.5 928.6 L545.5 930.4 L548.5 932.0 L551.5 933.5 L554.5 934.9 L557.5 936.3 L560.5 937.6 L563.5 938.9 L566.5 940.3 L569.5 941.6 L572.5 942.8 L575.5 944.1 L578.5 945.2 L581.5 946.4 L584.5 947.4 L587.5 948.4 L590.5 949.4 L593.5 950.2 L596.5 950.9 L599.5 951.6 L602.5 952.1 L605.5 952.5 L608.5 952.8 L611.5 953.0 L614.5 953.0 L617.5 952.8 L620.5 952.5 L623.5 951.9 L626.5 951.2 L629.5 950.3 L632.5 949.2 L635.5 947.8 L638.5 946.2 L641.5 944.5 L644.5 942.6 L647.5 940.5 L650.5 938.3 L653.5 935.9 L656.5 933.4 L659.5 930.8 L662.5 928.1 L665.5 925.3 L668.5 922.4 L671.5 919.4 L674.5 916.4 L677.5 913.4 L680.5 910.3 L683.5 907.2 L686.5 904.0 L689.5 900.9 L692.5 897.8 L695.5 894.7 L698.5 891.7 L701.5 888.7 L704.5 885.8 L707.5 882.9 L710.5 880.2 L713.5 877.4 L716.5 874.8 L719.5 872.2 L722.5 869.6 L725.5 867.1 L728.5 864.6 L731.5 862.1 L734.5 859.6 L737.5 857.1 L740.5 854.6 L743.5 852.1 L746.5 849.5 L749.5 846.9 L752.5 844.2 L755.5 841.4 L758.5 838.6 L761.5 835.7 L764.5 832.7 L767.5 829.6 L770.5 826.4 L773.5 823.0 L776.5 819.5 L779.5 815.9 L782.5 812.1 L785.5 808.2 L788.5 804.1 L791.5 799.8 L794.5 795.5 L797.5 791.0 L800.5 786.4 L803.5 781.6 L806.5 776.8 L809.5 771.9 L812.5 767.0 L815.5 761.9 L818.5 756.8 L821.5 751.7 L824.5 746.5 L827.5 741.3 L830.5 736.1 L833.5 730.9 L836.5 725.7 L839.5 720.4 L842.5 715.3 L845.5 710.1 L848.5 705.0 L851.5 699.9 L854.5 694.9 L857.5 689.9 L860.5 685.1 L863.5 680.3 L866.5 675.6 L869.5 671.0 L872.5 666.6 L875.5 662.2 L878.5 658.0 L881.5 654.0 L884.5 650.1 L887.5 646.3 L890.5 642.8 L893.5 639.3 L896.5 636.1 L899.5 633.0 L902.5 630.0 L905.5 627.2 L908.5 624.6 L911.5 622.2 L914.5 619.9 L917.5 617.8 L920.5 615.8 L923.5 614.0 L926.5 612.4 L929.5 610.9 L932.5 609.6 L935.5 608.5 L938.5 607.6 L941.5 606.8 L944.5 606.2 L947.5 605.7 L950.5 605.5 L953.5 605.4 L956.5 605.5 L959.5 605.8 L962.5 606.2 L965.5 606.8 L968.5 607.6 L971.5 608.6 L974.5 609.8 L977.5 611.1 L980.5 612.6 L983.5 614.3 L986.5 616.2 L989.5 618.2 L992.5 620.4 L995.5 622.8 L998.5 625.3 L1001.5 628.1 L1004.5 631.0 L1007.5 634.0 L1010.5 637.2 L1013.5 640.6 L1016.5 644.1 L1019.5 647.8 L1022.5 651.7 L1025.5 655.7 L1028.5 659.8 L1031.5 664.2 L1034.5 668.6 L1037.5 673.2 L1040.5 678.0 L1043.5 682.9 L1046.5 688.0 L1049.5 693.2 L1052.5 698.5 L1055.5 704.0 L1058.5 709.6 L1061.5 715.4 L1064.5 721.3 L1067.5 727.3 L1070.5 733.5 L1073.5 739.8 L1076.5 746.2 L1079.5 752.8 L1082.5 759.5 L1085.5 766.3 L1088.5 773.2 L1091.5 780.2 L1094.5 787.4 L1097.5 794.6 L1100.5 801.9 L1103.5 809.3 L1106.5 816.8 L1109.5 824.4 L1112.5 832.0 L1115.5 839.7 L1118.5 847.4 L1121.5 855.1 L1124.5 862.9 L1127.5 870.7 L1130.5 878.6 L1133.5 886.4 L1136.5 894.3 L1139.5 902.1 L1142.5 910.0 L1145.5 917.8 L1148.5 925.7 L1151.5 933.5 L1154.5 941.2 L1157.5 948.9 L1160.5 956.6 L1163.5 964.2 L1166.5 971.8 L1169.5 979.3 L1172.5 986.7 L1175.5 994.1 L1178.5 1001.3 L1181.5 1008.5 L1184.5 1015.5 L1187.5 1022.5 L1190.5 1029.3 L1193.5 1036.1 L1196.5 1042.7 L1199.5 1049.2 L1202.5 1055.6 L1205.5 1061.8 L1208.5 1068.0 L1211.5 1074.0 L1214.5 1079.8 L1217.5 1085.5 L1220.5 1091.1 L1223.5 1096.5 L1226.5 1101.8 L1229.5 1106.9 L1232.5 1111.9 L1235.5 1116.6 L1238.5 1121.3 L1241.5 1125.7 L1244.5 1130.0 L1247.5 1134.0 L1250.5 1137.9 L1253.5 1141.6 L1256.5 1145.2 L1259.5 1148.5 L1262.5 1151.6 L1265.5 1154.5 L1268.5 1157.2 L1271.5 1159.7 L1274.5 1162.0 L1277.5 1164.1 L1280.5 1166.0 L1283.5 1167.7 L1286.5 1169.2 L1289.5 1170.5 L1292.5 1171.7 L1295.5 1172.7 L1298.5 1173.5 L1301.5 1174.2 L1304.5 1174.8 L1307.5 1175.2 L1310.5 1175.5 L1313.5 1175.7 L1316.5 1175.8 L1319.5 1175.8 L1322.5 1175.7 L1325.5 1175.5 L1328.5 1175.3 L1331.5 1174.9 L1334.5 1174.5 L1337.5 1174.1 L1340.5 1173.6 L1343.5 1173.1 L1346.5 1172.5 L1349.5 1171.9 L1352.5 1171.3 L1355.5 1170.7 L1358.5 1170.0 L1361.5 1169.4 L1364.5 1168.8 L1367.5 1168.2 L1370.5 1167.6 L1373.5 1167.1 L1376.5 1166.5 L1379.5 1165.9 L1382.5 1165.3 L1385.5 1164.7 L1388.5 1164.2 L1391.5 1163.6 L1394.5 1162.9 L1397.5 1162.3 L1400.5 1161.7 L1403.5 1161.0 L1406.5 1160.3 L1409.5 1159.6 L1412.5 1158.9 L1415.5 1158.1 L1418.5 1157.3 L1421.5 1156.5 L1424.5 1155.7 L1427.5 1154.7 L1430.5 1153.8 L1433.5 1152.8 L1436.5 1151.8 L1439.5 1150.7 L1442.5 1149.6 L1445.5 1148.4 L1448.5 1147.1 L1451.5 1145.8 L1454.5 1144.5 L1457.5 1143.1 L1460.5 1141.6 L1463.5 1140.0 L1466.5 1138.4 L1469.5 1136.7 L1472.5 1134.9 L1475.5 1133.2 L1478.5 1131.3 L1481.5 1129.5 L1484.5 1127.6 L1487.5 1125.7 L1490.5 1123.8 L1493.5 1121.9 L1496.5 1120.0 L1499.5 1118.1 L1502.5 1116.3 L1505.5 1114.5 L1508.5 1112.7 L1511.5 1110.9 L1514.5 1109.2 L1517.5 1107.6 L1520.5 1106.0 L1523.5 1104.6 L1526.5 1103.1 L1529.5 1101.8 L1532.5 1100.6 L1535.5 1099.5 L1538.5 1098.5 L1541.5 1097.6 L1544.5 1096.8 L1547.5 1096.2 L1550.5 1095.7 L1553.5 1095.4 L1556.5 1095.2 L1559.5 1095.2 L1562.5 1095.3 L1565.5 1095.7 L1568.5 1096.2 L1571.5 1096.9 L1574.5 1097.9 L1577.5 1099.0 L1580.5 1100.4 L1583.5 1102.1 L1586.5 1104.0 L1589.5 1106.2 L1592.5 1108.6 L1595.5 1111.4 L1598.5 1114.4 L1601.5 1117.8 L1604.5 1121.5 L1607.5 1125.6 L1610.5 1129.9 L1613.5 1134.7 L1616.5 1139.7 L1619.5 1145.0 L1622.5 1150.5 L1625.5 1156.1 L1628.5 1161.8 L1631.5 1167.4 L1634.5 1173.0 L1637.5 1178.4 L1640.5 1183.7 L1643.5 1188.7 L1646.5 1193.4 L1649.5 1197.9 L1652.5 1202.1 L1655.5 1206.2 L1658.5 1210.0 L1661.5 1213.5 L1664.5 1216.9 L1667.5 1220.1 L1670.5 1223.0 L1673.5 1225.8 L1676.5 1228.4 L1679.5 1230.9 L1682.5 1233.2 L1685.5 1235.3 L1688.5 1237.3 L1691.5 1239.2 L1694.5 1240.9 L1697.5 1242.5 L1700.5 1244.1 L1703.5 1245.5 L1706.5 1246.8 L1709.5 1248.1 L1712.5 1249.3 L1715.5 1250.4 L1718.5 1251.4 L1721.5 1252.4 L1724.5 1253.4 L1727.5 1254.3 L1730.5 1255.2 L1733.5 1256.1 L1736.5 1256.9 L1739.5 1257.7 L1742.5 1258.4 L1745.5 1259.2 L1748.5 1259.8 L1751.5 1260.5 L1754.5 1261.1 L1757.5 1261.7 L1760.5 1262.3 L1763.5 1262.8 L1766.5 1263.3 L1769.5 1263.8 L1772.5 1264.2 L1775.5 1264.7 L1778.5 1265.1 L1781.5 1265.5 L1784.5 1265.8 L1787.5 1266.1 L1790.5 1266.5 L1793.5 1266.7 L1796.5 1267.0 L1799.5 1267.3 L1802.5 1267.5 L1805.5 1267.7 L1808.5 1267.9 L1811.5 1268.1 L1814.5 1268.2 L1817.5 1268.4 L1820.5 1268.5 L1823.5 1268.7 L1826.5 1268.8 L1829.5 1268.9 L1832.5 1269.0 L1835.5 1269.0 L1838.5 1269.1 L1841.5 1269.2 L1844.5 1269.2 L1847.5 1269.3 L1850.5 1269.3 L1853.5 1269.3 L1856.5 1269.4 L1859.5 1269.4 L1862.5 1269.4 L1865.5 1269.4 L1868.5 1269.5 L1871.5 1269.5 L1874.5 1269.5 L1877.5 1269.5 L1880.5 1269.5 L1883.5 1269.6 L1886.5 1269.6 L1887.6 1269.6"/>
<path class="c" stroke="#B177DE" d="M269.5 899.3 L272.5 899.3 L275.5 899.2 L278.5 899.0 L281.5 898.8 L284.5 898.5 L287.5 898.2 L290.5 897.7 L293.5 897.2 L296.5 896.6 L299.5 895.9 L302.5 895.1 L305.5 894.3 L308.5 893.4 L311.5 892.4 L314.5 891.3 L317.5 890.0 L320.5 888.7 L323.5 887.3 L326.5 886.0 L329.5 884.6 L332.5 883.2 L335.5 881.8 L338.5 880.5 L341.5 879.1 L344.5 877.8 L347.5 876.3 L350.5 874.8 L353.5 873.1 L356.5 871.2 L359.5 867.6 L362.5 863.2 L365.5 859.2 L368.5 858.5 L371.5 857.8 L374.5 856.9 L377.5 856.0 L380.5 854.8 L383.5 853.2 L386.5 851.3 L389.5 849.3 L392.5 847.4 L395.5 845.7 L398.5 844.2 L401.5 842.7 L404.5 841.3 L407.5 840.0 L410.5 838.8 L413.5 837.7 L416.5 836.8 L419.5 836.0 L422.5 835.2 L425.5 834.6 L428.5 834.1 L431.5 833.7 L434.5 833.3 L437.5 833.2 L440.5 833.1 L443.5 833.2 L446.5 833.4 L449.5 833.8 L452.5 834.3 L455.5 835.0 L458.5 835.9 L461.5 836.9 L464.5 838.0 L467.5 839.4 L470.5 840.9 L473.5 842.6 L476.5 844.4 L479.5 846.5 L482.5 848.7 L485.5 851.2 L488.5 853.8 L491.5 856.6 L494.5 859.6 L497.5 862.7 L500.5 866.0 L503.5 869.3 L506.5 872.6 L509.5 876.0 L512.5 879.3 L515.5 882.6 L518.5 885.9 L521.5 889.1 L524.5 892.1 L527.5 895.0 L530.5 897.7 L533.5 900.2 L536.5 902.5 L539.5 904.6 L542.5 906.5 L545.5 908.3 L548.5 909.9 L551.5 911.5 L554.5 913.0 L557.5 914.4 L560.5 915.9 L563.5 917.3 L566.5 918.8 L569.5 920.2 L572.5 921.7 L575.5 923.2 L578.5 924.7 L581.5 926.2 L584.5 927.8 L587.5 929.3 L590.5 931.0 L593.5 932.6 L596.5 934.3 L599.5 936.1 L602.5 937.9 L605.5 939.7 L608.5 941.5 L611.5 943.2 L614.5 944.9 L617.5 946.4 L620.5 947.7 L623.5 948.9 L626.5 949.7 L629.5 950.3 L632.5 950.5 L635.5 950.5 L638.5 950.1 L641.5 949.4 L644.5 948.4 L647.5 947.3 L650.5 945.9 L653.5 944.4 L656.5 942.8 L659.5 941.0 L662.5 939.2 L665.5 937.3 L668.5 935.4 L671.5 933.5 L674.5 931.7 L677.5 929.9 L680.5 928.2 L683.5 926.6 L686.5 925.1 L689.5 923.6 L692.5 922.2 L695.5 920.9 L698.5 919.7 L701.5 918.5 L704.5 917.5 L707.5 916.5 L710.5 915.5 L713.5 914.6 L716.5 913.8 L719.5 913.0 L722.5 912.3 L725.5 911.5 L728.5 910.8 L731.5 910.0 L734.5 909.3 L737.5 908.5 L740.5 907.7 L743.5 906.9 L746.5 906.0 L749.5 905.0 L752.5 904.0 L755.5 902.9 L758.5 901.6 L761.5 900.3 L764.5 898.9 L767.5 897.4 L770.5 895.7 L773.5 893.9 L776.5 891.9 L779.5 889.7 L782.5 887.4 L785.5 884.9 L788.5 882.3 L791.5 879.4 L794.5 876.5 L797.5 873.3 L800.5 870.1 L803.5 866.7 L806.5 863.2 L809.5 859.6 L812.5 855.9 L815.5 852.1 L818.5 848.3 L821.5 844.4 L824.5 840.4 L827.5 836.4 L830.5 832.3 L833.5 828.3 L836.5 824.2 L839.5 820.1 L842.5 816.0 L845.5 811.9 L848.5 807.8 L851.5 803.8 L854.5 799.8 L857.5 795.9 L860.5 792.0 L863.5 788.1 L866.5 784.4 L869.5 780.6 L872.5 777.0 L875.5 773.4 L878.5 769.9 L881.5 766.5 L884.5 763.2 L887.5 760.0 L890.5 756.9 L893.5 753.8 L896.5 750.9 L899.5 748.1 L902.5 745.4 L905.5 742.8 L908.5 740.4 L911.5 738.1 L914.5 735.9 L917.5 733.8 L920.5 731.9 L923.5 730.1 L926.5 728.5 L929.5 727.1 L932.5 725.8 L935.5 724.6 L938.5 723.6 L941.5 722.8 L944.5 722.2 L947.5 721.7 L950.5 721.4 L953.5 721.2 L956.5 721.2 L959.5 721.3 L962.5 721.6 L965.5 722.1 L968.5 722.7 L971.5 723.4 L974.5 724.3 L977.5 725.4 L980.5 726.6 L983.5 727.9 L986.5 729.4 L989.5 731.0 L992.5 732.8 L995.5 734.7 L998.5 736.8 L1001.5 739.0 L1004.5 741.3 L1007.5 743.8 L1010.5 746.4 L1013.5 749.1 L1016.5 752.0 L1019.5 755.0 L1022.5 758.1 L1025.5 761.4 L1028.5 764.8 L1031.5 768.3 L1034.5 772.0 L1037.5 775.8 L1040.5 779.7 L1043.5 783.7 L1046.5 787.9 L1049.5 792.1 L1052.5 796.5 L1055.5 801.0 L1058.5 805.6 L1061.5 810.3 L1064.5 815.1 L1067.5 820.0 L1070.5 825.0 L1073.5 830.1 L1076.5 835.3 L1079.5 840.6 L1082.5 846.0 L1085.5 851.4 L1088.5 857.0 L1091.5 862.6 L1094.5 868.3 L1097.5 874.0 L1100.5 879.8 L1103.5 885.7 L1106.5 891.7 L1109.5 897.7 L1112.5 903.7 L1115.5 909.8 L1118.5 916.0 L1121.5 922.2 L1124.5 928.5 L1127.5 934.8 L1130.5 941.1 L1133.5 947.5 L1136.5 953.9 L1139.5 960.3 L1142.5 966.8 L1145.5 973.3 L1148.5 979.8 L1151.5 986.3 L1154.5 992.8 L1157.5 999.4 L1160.5 1005.9 L1163.5 1012.5 L1166.5 1019.1 L1169.5 1025.6 L1172.5 1032.1 L1175.5 1038.6 L1178.5 1045.1 L1181.5 1051.5 L1184.5 1057.8 L1187.5 1064.1 L1190.5 1070.3 L1193.5 1076.4 L1196.5 1082.5 L1199.5 1088.4 L1202.5 1094.3 L1205.5 1100.0 L1208.5 1105.7 L1211.5 1111.2 L1214.5 1116.5 L1217.5 1121.7 L1220.5 1126.8 L1223.5 1131.7 L1226.5 1136.4 L1229.5 1141.0 L1232.5 1145.4 L1235.5 1149.6 L1238.5 1153.6 L1241.5 1157.4 L1244.5 1160.9 L1247.5 1164.3 L1250.5 1167.4 L1253.5 1170.3 L1256.5 1173.0 L1259.5 1175.5 L1262.5 1177.7 L1265.5 1179.8 L1268.5 1181.7 L1271.5 1183.5 L1274.5 1185.0 L1277.5 1186.4 L1280.5 1187.7 L1283.5 1188.8 L1286.5 1189.7 L1289.5 1190.5 L1292.5 1191.2 L1295.5 1191.8 L1298.5 1192.3 L1301.5 1192.6 L1304.5 1192.9 L1307.5 1193.1 L1310.5 1193.2 L1313.5 1193.2 L1316.5 1193.1 L1319.5 1193.0 L1322.5 1192.9 L1325.5 1192.7 L1328.5 1192.5 L1331.5 1192.2 L1334.5 1191.9 L1337.5 1191.6 L1340.5 1191.3 L1343.5 1191.0 L1346.5 1190.7 L1349.5 1190.4 L1352.5 1190.0 L1355.5 1189.7 L1358.5 1189.4 L1361.5 1189.1 L1364.5 1188.7 L1367.5 1188.4 L1370.5 1188.0 L1373.5 1187.6 L1376.5 1187.2 L1379.5 1186.8 L1382.5 1186.3 L1385.5 1185.9 L1388.5 1185.4 L1391.5 1184.9 L1394.5 1184.3 L1397.5 1183.8 L1400.5 1183.2 L1403.5 1182.5 L1406.5 1181.8 L1409.5 1181.1 L1412.5 1180.4 L1415.5 1179.6 L1418.5 1178.8 L1421.5 1177.9 L1424.5 1177.0 L1427.5 1176.0 L1430.5 1175.0 L1433.5 1174.0 L1436.5 1172.8 L1439.5 1171.7 L1442.5 1170.4 L1445.5 1169.2 L1448.5 1167.8 L1451.5 1166.5 L1454.5 1165.0 L1457.5 1163.6 L1460.5 1162.1 L1463.5 1160.5 L1466.5 1159.0 L1469.5 1157.4 L1472.5 1155.8 L1475.5 1154.2 L1478.5 1152.5 L1481.5 1150.9 L1484.5 1149.3 L1487.5 1147.6 L1490.5 1146.0 L1493.5 1144.4 L1496.5 1142.8 L1499.5 1141.2 L1502.5 1139.7 L1505.5 1138.2 L1508.5 1136.7 L1511.5 1135.2 L1514.5 1133.8 L1517.5 1132.5 L1520.5 1131.1 L1523.5 1129.9 L1526.5 1128.7 L1529.5 1127.6 L1532.5 1126.5 L1535.5 1125.5 L1538.5 1124.6 L1541.5 1123.7 L1544.5 1123.0 L1547.5 1122.3 L1550.5 1121.8 L1553.5 1121.4 L1556.5 1121.1 L1559.5 1120.9 L1562.5 1121.0 L1565.5 1121.2 L1568.5 1121.7 L1571.5 1122.4 L1574.5 1123.3 L1577.5 1124.4 L1580.5 1125.9 L1583.5 1127.6 L1586.5 1129.6 L1589.5 1132.0 L1592.5 1134.7 L1595.5 1137.7 L1598.5 1141.1 L1601.5 1144.9 L1604.5 1149.0 L1607.5 1153.4 L1610.5 1158.0 L1613.5 1162.7 L1616.5 1167.6 L1619.5 1172.6 L1622.5 1177.5 L1625.5 1182.5 L1628.5 1187.3 L1631.5 1191.9 L1634.5 1196.5 L1637.5 1200.9 L1640.5 1205.2 L1643.5 1209.3 L1646.5 1213.2 L1649.5 1217.0 L1652.5 1220.7 L1655.5 1224.1 L1658.5 1227.4 L1661.5 1230.4 L1664.5 1233.3 L1667.5 1236.0 L1670.5 1238.5 L1673.5 1240.8 L1676.5 1242.8 L1679.5 1244.7 L1682.5 1246.4 L1685.5 1247.9 L1688.5 1249.3 L1691.5 1250.5 L1694.5 1251.7 L1697.5 1252.7 L1700.5 1253.7 L1703.5 1254.6 L1706.5 1255.4 L1709.5 1256.3 L1712.5 1257.1 L1715.5 1257.8 L1718.5 1258.6 L1721.5 1259.3 L1724.5 1260.0 L1727.5 1260.7 L1730.5 1261.3 L1733.5 1261.9 L1736.5 1262.5 L1739.5 1263.1 L1742.5 1263.6 L1745.5 1264.1 L1748.5 1264.6 L1751.5 1265.1 L1754.5 1265.6 L1757.5 1266.0 L1760.5 1266.4 L1763.5 1266.8 L1766.5 1267.1 L1769.5 1267.5 L1772.5 1267.8 L1775.5 1268.1 L1778.5 1268.4 L1781.5 1268.6 L1784.5 1268.9 L1787.5 1269.1 L1790.5 1269.3 L1793.5 1269.5 L1796.5 1269.7 L1799.5 1269.9 L1802.5 1270.0 L1805.5 1270.2 L1808.5 1270.3 L1811.5 1270.4 L1814.5 1270.5 L1817.5 1270.6 L1820.5 1270.6 L1823.5 1270.7 L1826.5 1270.8 L1829.5 1270.8 L1832.5 1270.8 L1835.5 1270.8 L1838.5 1270.8 L1841.5 1270.8 L1844.5 1270.8 L1847.5 1270.8 L1850.5 1270.8 L1853.5 1270.7 L1856.5 1270.7 L1859.5 1270.6 L1862.5 1270.6 L1865.5 1270.5 L1868.5 1270.5 L1871.5 1270.4 L1874.5 1270.3 L1877.5 1270.2 L1880.5 1270.2 L1883.5 1270.1 L1886.5 1270.0 L1887.6 1270.0"/>
<path class="c" stroke="#CC9900" d="M269.5 904.4 L272.5 904.6 L275.5 904.8 L278.5 904.9 L281.5 905.0 L284.5 904.8 L287.5 904.5 L290.5 904.1 L293.5 903.4 L296.5 902.6 L299.5 901.6 L302.5 900.5 L305.5 899.4 L308.5 898.3 L311.5 897.2 L314.5 896.2 L317.5 895.2 L320.5 894.3 L323.5 893.4 L326.5 892.6 L329.5 891.7 L332.5 890.8 L335.5 889.9 L338.5 888.8 L341.5 887.5 L344.5 886.1 L347.5 884.5 L350.5 882.9 L353.5 880.9 L356.5 877.8 L359.5 873.7 L362.5 864.3 L365.5 861.7 L368.5 861.0 L371.5 860.2 L374.5 858.7 L377.5 856.9 L380.5 854.6 L383.5 852.0 L386.5 849.4 L389.5 846.7 L392.5 844.1 L395.5 841.6 L398.5 839.3 L401.5 836.9 L404.5 834.6 L407.5 832.4 L410.5 830.2 L413.5 828.1 L416.5 826.1 L419.5 824.1 L422.5 822.2 L425.5 820.3 L428.5 818.5 L431.5 816.7 L434.5 815.0 L437.5 813.3 L440.5 811.7 L443.5 810.3 L446.5 809.0 L449.5 808.0 L452.5 807.1 L455.5 806.4 L458.5 805.9 L461.5 805.7 L464.5 805.7 L467.5 806.0 L470.5 806.7 L473.5 807.5 L476.5 808.7 L479.5 810.1 L482.5 811.8 L485.5 813.6 L488.5 815.7 L491.5 817.9 L494.5 820.3 L497.5 822.8 L500.5 825.4 L503.5 828.1 L506.5 830.9 L509.5 833.7 L512.5 836.6 L515.5 839.5 L518.5 842.3 L521.5 845.2 L524.5 848.0 L527.5 850.7 L530.5 853.4 L533.5 855.9 L536.5 858.4 L539.5 860.7 L542.5 862.8 L545.5 864.8 L548.5 866.7 L551.5 868.5 L554.5 870.3 L557.5 872.1 L560.5 873.9 L563.5 875.8 L566.5 877.8 L569.5 879.9 L572.5 882.2 L575.5 884.8 L578.5 887.5 L581.5 890.6 L584.5 893.9 L587.5 897.7 L590.5 901.7 L593.5 905.9 L596.5 910.3 L599.5 914.8 L602.5 919.4 L605.5 923.8 L608.5 928.2 L611.5 932.4 L614.5 936.3 L617.5 939.8 L620.5 943.0 L623.5 945.9 L626.5 948.5 L629.5 950.8 L632.5 952.8 L635.5 954.6 L638.5 956.1 L641.5 957.5 L644.5 958.7 L647.5 959.7 L650.5 960.6 L653.5 961.4 L656.5 962.1 L659.5 962.8 L662.5 963.4 L665.5 964.0 L668.5 964.6 L671.5 965.2 L674.5 965.9 L677.5 966.6 L680.5 967.5 L683.5 968.5 L686.5 969.6 L689.5 970.8 L692.5 972.3 L695.5 973.9 L698.5 975.7 L701.5 977.7 L704.5 979.8 L707.5 982.1 L710.5 984.5 L713.5 986.9 L716.5 989.5 L719.5 992.1 L722.5 994.8 L725.5 997.5 L728.5 1000.2 L731.5 1002.9 L734.5 1005.6 L737.5 1008.3 L740.5 1011.0 L743.5 1013.5 L746.5 1016.0 L749.5 1018.5 L752.5 1020.8 L755.5 1022.9 L758.5 1025.0 L761.5 1026.9 L764.5 1028.6 L767.5 1030.1 L770.5 1031.5 L773.5 1032.6 L776.5 1033.5 L779.5 1034.3 L782.5 1034.9 L785.5 1035.3 L788.5 1035.5 L791.5 1035.6 L794.5 1035.5 L797.5 1035.2 L800.5 1034.8 L803.5 1034.2 L806.5 1033.5 L809.5 1032.6 L812.5 1031.6 L815.5 1030.5 L818.5 1029.2 L821.5 1027.8 L824.5 1026.3 L827.5 1024.7 L830.5 1023.0 L833.5 1021.1 L836.5 1019.2 L839.5 1017.1 L842.5 1015.0 L845.5 1012.8 L848.5 1010.5 L851.5 1008.1 L854.5 1005.7 L857.5 1003.3 L860.5 1000.8 L863.5 998.4 L866.5 995.9 L869.5 993.4 L872.5 990.9 L875.5 988.5 L878.5 986.1 L881.5 983.7 L884.5 981.4 L887.5 979.2 L890.5 977.1 L893.5 975.0 L896.5 973.1 L899.5 971.3 L902.5 969.6 L905.5 968.0 L908.5 966.6 L911.5 965.2 L914.5 964.0 L917.5 962.9 L920.5 961.9 L923.5 961.0 L926.5 960.2 L929.5 959.4 L932.5 958.8 L935.5 958.2 L938.5 957.7 L941.5 957.2 L944.5 956.8 L947.5 956.5 L950.5 956.2 L953.5 956.0 L956.5 955.8 L959.5 955.7 L962.5 955.7 L965.5 955.8 L968.5 955.9 L971.5 956.1 L974.5 956.3 L977.5 956.7 L980.5 957.1 L983.5 957.5 L986.5 958.1 L989.5 958.7 L992.5 959.4 L995.5 960.2 L998.5 961.1 L1001.5 962.1 L1004.5 963.1 L1007.5 964.2 L1010.5 965.4 L1013.5 966.7 L1016.5 968.1 L1019.5 969.6 L1022.5 971.1 L1025.5 972.8 L1028.5 974.6 L1031.5 976.4 L1034.5 978.3 L1037.5 980.4 L1040.5 982.5 L1043.5 984.8 L1046.5 987.1 L1049.5 989.6 L1052.5 992.1 L1055.5 994.7 L1058.5 997.5 L1061.5 1000.3 L1064.5 1003.2 L1067.5 1006.2 L1070.5 1009.2 L1073.5 1012.4 L1076.5 1015.6 L1079.5 1018.8 L1082.5 1022.2 L1085.5 1025.6 L1088.5 1029.0 L1091.5 1032.6 L1094.5 1036.1 L1097.5 1039.7 L1100.5 1043.4 L1103.5 1047.1 L1106.5 1050.8 L1109.5 1054.6 L1112.5 1058.4 L1115.5 1062.3 L1118.5 1066.1 L1121.5 1070.0 L1124.5 1073.9 L1127.5 1077.8 L1130.5 1081.7 L1133.5 1085.7 L1136.5 1089.6 L1139.5 1093.5 L1142.5 1097.5 L1145.5 1101.4 L1148.5 1105.3 L1151.5 1109.2 L1154.5 1113.1 L1157.5 1117.0 L1160.5 1120.8 L1163.5 1124.7 L1166.5 1128.5 L1169.5 1132.2 L1172.5 1135.9 L1175.5 1139.6 L1178.5 1143.3 L1181.5 1146.9 L1184.5 1150.4 L1187.5 1153.9 L1190.5 1157.4 L1193.5 1160.8 L1196.5 1164.1 L1199.5 1167.3 L1202.5 1170.5 L1205.5 1173.6 L1208.5 1176.7 L1211.5 1179.6 L1214.5 1182.5 L1217.5 1185.3 L1220.5 1188.0 L1223.5 1190.6 L1226.5 1193.1 L1229.5 1195.5 L1232.5 1197.8 L1235.5 1200.0 L1238.5 1202.1 L1241.5 1204.1 L1244.5 1206.0 L1247.5 1207.7 L1250.5 1209.4 L1253.5 1210.9 L1256.5 1212.3 L1259.5 1213.7 L1262.5 1214.9 L1265.5 1216.1 L1268.5 1217.1 L1271.5 1218.1 L1274.5 1219.0 L1277.5 1219.8 L1280.5 1220.5 L1283.5 1221.2 L1286.5 1221.8 L1289.5 1222.3 L1292.5 1222.7 L1295.5 1223.1 L1298.5 1223.5 L1301.5 1223.7 L1304.5 1223.9 L1307.5 1224.1 L1310.5 1224.2 L1313.5 1224.3 L1316.5 1224.3 L1319.5 1224.3 L1322.5 1224.3 L1325.5 1224.2 L1328.5 1224.1 L1331.5 1223.9 L1334.5 1223.8 L1337.5 1223.6 L1340.5 1223.4 L1343.5 1223.1 L1346.5 1222.9 L1349.5 1222.7 L1352.5 1222.4 L1355.5 1222.1 L1358.5 1221.8 L1361.5 1221.5 L1364.5 1221.2 L1367.5 1220.8 L1370.5 1220.5 L1373.5 1220.1 L1376.5 1219.7 L1379.5 1219.3 L1382.5 1218.8 L1385.5 1218.4 L1388.5 1217.9 L1391.5 1217.4 L1394.5 1216.9 L1397.5 1216.3 L1400.5 1215.8 L1403.5 1215.2 L1406.5 1214.6 L1409.5 1214.0 L1412.5 1213.3 L1415.5 1212.7 L1418.5 1212.0 L1421.5 1211.3 L1424.5 1210.5 L1427.5 1209.8 L1430.5 1209.0 L1433.5 1208.2 L1436.5 1207.4 L1439.5 1206.5 L1442.5 1205.6 L1445.5 1204.7 L1448.5 1203.8 L1451.5 1202.8 L1454.5 1201.9 L1457.5 1200.9 L1460.5 1199.9 L1463.5 1198.9 L1466.5 1197.9 L1469.5 1196.8 L1472.5 1195.8 L1475.5 1194.8 L1478.5 1193.7 L1481.5 1192.7 L1484.5 1191.7 L1487.5 1190.7 L1490.5 1189.7 L1493.5 1188.7 L1496.5 1187.7 L1499.5 1186.8 L1502.5 1185.8 L1505.5 1184.9 L1508.5 1184.0 L1511.5 1183.2 L1514.5 1182.4 L1517.5 1181.6 L1520.5 1180.8 L1523.5 1180.1 L1526.5 1179.4 L1529.5 1178.7 L1532.5 1178.1 L1535.5 1177.6 L1538.5 1177.1 L1541.5 1176.6 L1544.5 1176.3 L1547.5 1175.9 L1550.5 1175.6 L1553.5 1175.5 L1556.5 1175.3 L1559.5 1175.3 L1562.5 1175.4 L1565.5 1175.6 L1568.5 1175.9 L1571.5 1176.3 L1574.5 1176.9 L1577.5 1177.6 L1580.5 1178.5 L1583.5 1179.5 L1586.5 1180.6 L1589.5 1182.0 L1592.5 1183.5 L1595.5 1185.2 L1598.5 1187.2 L1601.5 1189.3 L1604.5 1191.6 L1607.5 1194.2 L1610.5 1196.9 L1613.5 1199.8 L1616.5 1202.8 L1619.5 1206.0 L1622.5 1209.1 L1625.5 1212.3 L1628.5 1215.5 L1631.5 1218.6 L1634.5 1221.6 L1637.5 1224.5 L1640.5 1227.3 L1643.5 1229.9 L1646.5 1232.4 L1649.5 1234.8 L1652.5 1237.0 L1655.5 1239.1 L1658.5 1241.1 L1661.5 1243.0 L1664.5 1244.8 L1667.5 1246.4 L1670.5 1248.0 L1673.5 1249.5 L1676.5 1250.8 L1679.5 1252.1 L1682.5 1253.3 L1685.5 1254.5 L1688.5 1255.5 L1691.5 1256.5 L1694.5 1257.4 L1697.5 1258.3 L1700.5 1259.1 L1703.5 1259.9 L1706.5 1260.6 L1709.5 1261.3 L1712.5 1261.9 L1715.5 1262.5 L1718.5 1263.1 L1721.5 1263.6 L1724.5 1264.1 L1727.5 1264.7 L1730.5 1265.1 L1733.5 1265.6 L1736.5 1266.1 L1739.5 1266.5 L1742.5 1266.9 L1745.5 1267.3 L1748.5 1267.7 L1751.5 1268.1 L1754.5 1268.5 L1757.5 1268.8 L1760.5 1269.1 L1763.5 1269.5 L1766.5 1269.8 L1769.5 1270.0 L1772.5 1270.3 L1775.5 1270.6 L1778.5 1270.8 L1781.5 1271.1 L1784.5 1271.3 L1787.5 1271.5 L1790.5 1271.7 L1793.5 1271.9 L1796.5 1272.1 L1799.5 1272.2 L1802.5 1272.4 L1805.5 1272.5 L1808.5 1272.7 L1811.5 1272.8 L1814.5 1273.0 L1817.5 1273.1 L1820.5 1273.2 L1823.5 1273.3 L1826.5 1273.4 L1829.5 1273.5 L1832.5 1273.6 L1835.5 1273.6 L1838.5 1273.7 L1841.5 1273.8 L1844.5 1273.9 L1847.5 1273.9 L1850.5 1274.0 L1853.5 1274.0 L1856.5 1274.1 L1859.5 1274.1 L1862.5 1274.2 L1865.5 1274.2 L1868.5 1274.3 L1871.5 1274.3 L1874.5 1274.4 L1877.5 1274.4 L1880.5 1274.4 L1883.5 1274.5 L1886.5 1274.5 L1887.6 1274.5"/>
<path class="c" stroke="#00CBCC" d="M269.5 928.5 L272.5 926.7 L275.5 925.0 L278.5 923.2 L281.5 921.5 L284.5 919.8 L287.5 918.0 L290.5 916.3 L293.5 914.6 L296.5 912.9 L299.5 911.2 L302.5 909.5 L305.5 907.8 L308.5 906.2 L311.5 904.5 L314.5 902.9 L317.5 901.2 L320.5 899.6 L323.5 898.0 L326.5 896.4 L329.5 895.0 L332.5 893.7 L335.5 892.7 L338.5 891.6 L341.5 890.5 L344.5 889.3 L347.5 887.8 L350.5 885.6 L353.5 882.7 L356.5 879.4 L359.5 874.3 L362.5 867.6 L365.5 859.7 L368.5 858.3 L371.5 857.4 L374.5 856.6 L377.5 855.1 L380.5 852.9 L383.5 850.3 L386.5 847.5 L389.5 844.8 L392.5 842.0 L395.5 839.0 L398.5 835.7 L401.5 832.1 L404.5 828.7 L407.5 825.8 L410.5 823.1 L413.5 820.4 L416.5 817.6 L419.5 814.8 L422.5 811.8 L425.5 808.6 L428.5 805.3 L431.5 802.0 L434.5 798.7 L437.5 795.5 L440.5 792.4 L443.5 789.6 L446.5 786.9 L449.5 784.5 L452.5 782.2 L455.5 780.3 L458.5 778.6 L461.5 777.1 L464.5 776.0 L467.5 775.1 L470.5 774.5 L473.5 774.1 L476.5 774.0 L479.5 774.1 L482.5 774.5 L485.5 775.1 L488.5 775.9 L491.5 776.9 L494.5 778.2 L497.5 779.6 L500.5 781.3 L503.5 783.1 L506.5 785.1 L509.5 787.4 L512.5 789.7 L515.5 792.3 L518.5 795.0 L521.5 797.9 L524.5 800.8 L527.5 803.9 L530.5 807.0 L533.5 810.1 L536.5 813.2 L539.5 816.2 L542.5 819.1 L545.5 821.9 L548.5 824.6 L551.5 827.0 L554.5 829.3 L557.5 831.5 L560.5 833.5 L563.5 835.6 L566.5 837.8 L569.5 840.0 L572.5 842.4 L575.5 845.0 L578.5 848.0 L581.5 851.2 L584.5 854.8 L587.5 858.6 L590.5 862.7 L593.5 867.0 L596.5 871.5 L599.5 876.1 L602.5 881.0 L605.5 886.0 L608.5 891.0 L611.5 896.2 L614.5 901.4 L617.5 906.6 L620.5 911.9 L623.5 917.1 L626.5 922.3 L629.5 927.4 L632.5 932.4 L635.5 937.3 L638.5 942.1 L641.5 946.7 L644.5 951.1 L647.5 955.3 L650.5 959.3 L653.5 962.9 L656.5 966.4 L659.5 969.5 L662.5 972.4 L665.5 975.2 L668.5 977.9 L671.5 980.4 L674.5 982.9 L677.5 985.4 L680.5 987.9 L683.5 990.4 L686.5 993.1 L689.5 995.9 L692.5 998.9 L695.5 1002.1 L698.5 1005.5 L701.5 1009.1 L704.5 1012.9 L707.5 1016.8 L710.5 1020.9 L713.5 1025.2 L716.5 1029.5 L719.5 1034.0 L722.5 1038.5 L725.5 1043.2 L728.5 1047.9 L731.5 1052.7 L734.5 1057.5 L737.5 1062.3 L740.5 1067.1 L743.5 1071.9 L746.5 1076.7 L749.5 1081.5 L752.5 1086.2 L755.5 1090.8 L758.5 1095.3 L761.5 1099.7 L764.5 1104.0 L767.5 1108.1 L770.5 1112.1 L773.5 1116.0 L776.5 1119.6 L779.5 1123.0 L782.5 1126.2 L785.5 1129.2 L788.5 1131.9 L791.5 1134.4 L794.5 1136.5 L797.5 1138.4 L800.5 1140.1 L803.5 1141.5 L806.5 1142.7 L809.5 1143.6 L812.5 1144.4 L815.5 1145.0 L818.5 1145.4 L821.5 1145.7 L824.5 1145.8 L827.5 1145.8 L830.5 1145.7 L833.5 1145.5 L836.5 1145.2 L839.5 1144.8 L842.5 1144.3 L845.5 1143.8 L848.5 1143.1 L851.5 1142.4 L854.5 1141.6 L857.5 1140.8 L860.5 1139.9 L863.5 1138.9 L866.5 1137.9 L869.5 1136.8 L872.5 1135.8 L875.5 1134.6 L878.5 1133.5 L881.5 1132.3 L884.5 1131.1 L887.5 1129.9 L890.5 1128.7 L893.5 1127.5 L896.5 1126.3 L899.5 1125.1 L902.5 1124.0 L905.5 1122.8 L908.5 1121.7 L911.5 1120.6 L914.5 1119.5 L917.5 1118.5 L920.5 1117.5 L923.5 1116.5 L926.5 1115.6 L929.5 1114.8 L932.5 1114.0 L935.5 1113.3 L938.5 1112.6 L941.5 1111.9 L944.5 1111.4 L947.5 1110.8 L950.5 1110.3 L953.5 1109.9 L956.5 1109.5 L959.5 1109.2 L962.5 1109.0 L965.5 1108.7 L968.5 1108.6 L971.5 1108.5 L974.5 1108.4 L977.5 1108.4 L980.5 1108.5 L983.5 1108.6 L986.5 1108.7 L989.5 1109.0 L992.5 1109.2 L995.5 1109.6 L998.5 1109.9 L1001.5 1110.4 L1004.5 1110.9 L1007.5 1111.4 L1010.5 1112.0 L1013.5 1112.7 L1016.5 1113.4 L1019.5 1114.2 L1022.5 1115.0 L1025.5 1115.9 L1028.5 1116.8 L1031.5 1117.7 L1034.5 1118.7 L1037.5 1119.8 L1040.5 1120.8 L1043.5 1122.0 L1046.5 1123.1 L1049.5 1124.3 L1052.5 1125.6 L1055.5 1126.9 L1058.5 1128.2 L1061.5 1129.5 L1064.5 1130.9 L1067.5 1132.4 L1070.5 1133.8 L1073.5 1135.3 L1076.5 1136.8 L1079.5 1138.3 L1082.5 1139.9 L1085.5 1141.5 L1088.5 1143.1 L1091.5 1144.7 L1094.5 1146.4 L1097.5 1148.1 L1100.5 1149.8 L1103.5 1151.5 L1106.5 1153.2 L1109.5 1155.0 L1112.5 1156.7 L1115.5 1158.5 L1118.5 1160.3 L1121.5 1162.1 L1124.5 1164.0 L1127.5 1165.8 L1130.5 1167.6 L1133.5 1169.5 L1136.5 1171.3 L1139.5 1173.2 L1142.5 1175.0 L1145.5 1176.9 L1148.5 1178.7 L1151.5 1180.6 L1154.5 1182.5 L1157.5 1184.3 L1160.5 1186.2 L1163.5 1188.0 L1166.5 1189.9 L1169.5 1191.7 L1172.5 1193.6 L1175.5 1195.4 L1178.5 1197.2 L1181.5 1199.0 L1184.5 1200.8 L1187.5 1202.6 L1190.5 1204.3 L1193.5 1206.1 L1196.5 1207.8 L1199.5 1209.5 L1202.5 1211.2 L1205.5 1212.9 L1208.5 1214.6 L1211.5 1216.2 L1214.5 1217.8 L1217.5 1219.4 L1220.5 1220.9 L1223.5 1222.4 L1226.5 1223.9 L1229.5 1225.4 L1232.5 1226.8 L1235.5 1228.2 L1238.5 1229.5 L1241.5 1230.9 L1244.5 1232.1 L1247.5 1233.3 L1250.5 1234.5 L1253.5 1235.6 L1256.5 1236.7 L1259.5 1237.8 L1262.5 1238.7 L1265.5 1239.7 L1268.5 1240.5 L1271.5 1241.3 L1274.5 1242.1 L1277.5 1242.8 L1280.5 1243.4 L1283.5 1244.0 L1286.5 1244.5 L1289.5 1245.0 L1292.5 1245.3 L1295.5 1245.6 L1298.5 1245.9 L1301.5 1246.0 L1304.5 1246.1 L1307.5 1246.1 L1310.5 1246.1 L1313.5 1246.0 L1316.5 1245.8 L1319.5 1245.6 L1322.5 1245.4 L1325.5 1245.1 L1328.5 1244.8 L1331.5 1244.5 L1334.5 1244.1 L1337.5 1243.8 L1340.5 1243.4 L1343.5 1243.0 L1346.5 1242.7 L1349.5 1242.3 L1352.5 1242.0 L1355.5 1241.6 L1358.5 1241.3 L1361.5 1241.1 L1364.5 1240.9 L1367.5 1240.7 L1370.5 1240.5 L1373.5 1240.4 L1376.5 1240.2 L1379.5 1240.1 L1382.5 1240.0 L1385.5 1239.9 L1388.5 1239.8 L1391.5 1239.6 L1394.5 1239.5 L1397.5 1239.3 L1400.5 1239.2 L1403.5 1238.9 L1406.5 1238.7 L1409.5 1238.4 L1412.5 1238.1 L1415.5 1237.7 L1418.5 1237.4 L1421.5 1237.0 L1424.5 1236.5 L1427.5 1236.1 L1430.5 1235.6 L1433.5 1235.1 L1436.5 1234.6 L1439.5 1234.1 L1442.5 1233.5 L1445.5 1233.0 L1448.5 1232.4 L1451.5 1231.8 L1454.5 1231.2 L1457.5 1230.6 L1460.5 1229.9 L1463.5 1229.3 L1466.5 1228.7 L1469.5 1228.0 L1472.5 1227.4 L1475.5 1226.7 L1478.5 1226.0 L1481.5 1225.4 L1484.5 1224.7 L1487.5 1224.0 L1490.5 1223.4 L1493.5 1222.7 L1496.5 1222.1 L1499.5 1221.4 L1502.5 1220.8 L1505.5 1220.2 L1508.5 1219.6 L1511.5 1219.0 L1514.5 1218.4 L1517.5 1217.8 L1520.5 1217.3 L1523.5 1216.7 L1526.5 1216.2 L1529.5 1215.8 L1532.5 1215.4 L1535.5 1215.0 L1538.5 1214.6 L1541.5 1214.3 L1544.5 1214.0 L1547.5 1213.8 L1550.5 1213.6 L1553.5 1213.4 L1556.5 1213.4 L1559.5 1213.3 L1562.5 1213.4 L1565.5 1213.4 L1568.5 1213.6 L1571.5 1213.8 L1574.5 1214.1 L1577.5 1214.4 L1580.5 1214.9 L1583.5 1215.4 L1586.5 1216.0 L1589.5 1216.6 L1592.5 1217.4 L1595.5 1218.2 L1598.5 1219.1 L1601.5 1220.1 L1604.5 1221.2 L1607.5 1222.4 L1610.5 1223.7 L1613.5 1225.1 L1616.5 1226.6 L1619.5 1228.1 L1622.5 1229.8 L1625.5 1231.4 L1628.5 1233.2 L1631.5 1234.9 L1634.5 1236.7 L1637.5 1238.5 L1640.5 1240.3 L1643.5 1242.1 L1646.5 1243.9 L1649.5 1245.6 L1652.5 1247.3 L1655.5 1249.0 L1658.5 1250.6 L1661.5 1252.0 L1664.5 1253.5 L1667.5 1254.8 L1670.5 1256.0 L1673.5 1257.0 L1676.5 1258.0 L1679.5 1258.8 L1682.5 1259.6 L1685.5 1260.3 L1688.5 1260.8 L1691.5 1261.3 L1694.5 1261.8 L1697.5 1262.2 L1700.5 1262.5 L1703.5 1262.8 L1706.5 1263.1 L1709.5 1263.4 L1712.5 1263.6 L1715.5 1263.9 L1718.5 1264.2 L1721.5 1264.4 L1724.5 1264.7 L1727.5 1264.9 L1730.5 1265.2 L1733.5 1265.4 L1736.5 1265.7 L1739.5 1266.0 L1742.5 1266.2 L1745.5 1266.5 L1748.5 1266.7 L1751.5 1266.9 L1754.5 1267.2 L1757.5 1267.4 L1760.5 1267.6 L1763.5 1267.9 L1766.5 1268.1 L1769.5 1268.3 L1772.5 1268.5 L1775.5 1268.8 L1778.5 1269.0 L1781.5 1269.2 L1784.5 1269.4 L1787.5 1269.6 L1790.5 1269.8 L1793.5 1269.9 L1796.5 1270.1 L1799.5 1270.3 L1802.5 1270.5 L1805.5 1270.6 L1808.5 1270.8 L1811.5 1270.9 L1814.5 1271.1 L1817.5 1271.2 L1820.5 1271.3 L1823.5 1271.4 L1826.5 1271.5 L1829.5 1271.6 L1832.5 1271.7 L1835.5 1271.8 L1838.5 1271.9 L1841.5 1272.0 L1844.5 1272.0 L1847.5 1272.1 L1850.5 1272.1 L1853.5 1272.2 L1856.5 1272.2 L1859.5 1272.2 L1862.5 1272.2 L1865.5 1272.2 L1868.5 1272.2 L1871.5 1272.2 L1874.5 1272.1 L1877.5 1272.1 L1880.5 1272.0 L1883.5 1272.0 L1886.5 1271.9 L1887.6 1271.9"/>
<path class="c" stroke="#7D4E4E" d="M269.5 929.1 L272.5 927.5 L275.5 925.9 L278.5 924.3 L281.5 922.7 L284.5 921.2 L287.5 919.7 L290.5 918.3 L293.5 916.9 L296.5 915.5 L299.5 914.2 L302.5 912.9 L305.5 911.6 L308.5 910.3 L311.5 909.0 L314.5 907.7 L317.5 906.4 L320.5 905.1 L323.5 903.9 L326.5 902.6 L329.5 901.2 L332.5 899.9 L335.5 898.6 L338.5 897.2 L341.5 895.8 L344.5 894.4 L347.5 892.9 L350.5 890.5 L353.5 887.5 L356.5 884.1 L359.5 879.3 L362.5 873.4 L365.5 866.2 L368.5 865.2 L371.5 864.3 L374.5 862.7 L377.5 860.3 L380.5 857.5 L383.5 854.4 L386.5 851.2 L389.5 847.9 L392.5 844.6 L395.5 841.2 L398.5 837.7 L401.5 833.9 L404.5 830.3 L407.5 827.4 L410.5 824.7 L413.5 822.1 L416.5 819.3 L419.5 816.4 L422.5 813.3 L425.5 810.0 L428.5 806.7 L431.5 803.3 L434.5 799.9 L437.5 796.6 L440.5 793.4 L443.5 790.3 L446.5 787.4 L449.5 784.7 L452.5 782.1 L455.5 779.7 L458.5 777.5 L461.5 775.5 L464.5 773.8 L467.5 772.3 L470.5 771.1 L473.5 770.2 L476.5 769.6 L479.5 769.4 L482.5 769.5 L485.5 769.9 L488.5 770.7 L491.5 771.8 L494.5 773.2 L497.5 774.9 L500.5 776.8 L503.5 778.9 L506.5 781.1 L509.5 783.6 L512.5 786.2 L515.5 788.9 L518.5 791.7 L521.5 794.6 L524.5 797.5 L527.5 800.5 L530.5 803.6 L533.5 806.6 L536.5 809.7 L539.5 812.8 L542.5 815.8 L545.5 818.9 L548.5 821.9 L551.5 824.8 L554.5 827.7 L557.5 830.5 L560.5 833.3 L563.5 836.1 L566.5 839.1 L569.5 842.2 L572.5 845.6 L575.5 849.2 L578.5 853.3 L581.5 857.8 L584.5 862.9 L587.5 868.5 L590.5 874.7 L593.5 881.4 L596.5 888.4 L599.5 895.8 L602.5 903.3 L605.5 911.1 L608.5 918.9 L611.5 926.7 L614.5 934.4 L617.5 942.0 L620.5 949.4 L623.5 956.5 L626.5 963.3 L629.5 969.6 L632.5 975.6 L635.5 981.2 L638.5 986.5 L641.5 991.5 L644.5 996.3 L647.5 1000.9 L650.5 1005.3 L653.5 1009.5 L656.5 1013.7 L659.5 1017.9 L662.5 1022.0 L665.5 1026.2 L668.5 1030.5 L671.5 1034.8 L674.5 1039.4 L677.5 1044.1 L680.5 1049.1 L683.5 1054.3 L686.5 1059.7 L689.5 1065.3 L692.5 1071.2 L695.5 1077.1 L698.5 1083.3 L701.5 1089.6 L704.5 1096.0 L707.5 1102.5 L710.5 1109.2 L713.5 1115.9 L716.5 1122.8 L719.5 1129.7 L722.5 1136.6 L725.5 1143.6 L728.5 1150.6 L731.5 1157.7 L734.5 1164.7 L737.5 1171.7 L740.5 1178.7 L743.5 1185.7 L746.5 1192.6 L749.5 1199.4 L752.5 1206.1 L755.5 1212.7 L758.5 1219.1 L761.5 1225.4 L764.5 1231.5 L767.5 1237.3 L770.5 1242.9 L773.5 1248.2 L776.5 1253.3 L779.5 1258.0 L782.5 1262.4 L785.5 1266.4 L788.5 1270.2 L791.5 1273.7 L794.5 1276.8 L797.5 1279.8 L800.5 1282.5 L803.5 1285.1 L806.5 1287.5 L809.5 1289.7 L812.5 1291.7 L815.5 1293.6 L818.5 1295.3 L821.5 1296.9 L824.5 1298.3 L827.5 1299.7 L830.5 1300.9 L833.5 1301.9 L836.5 1302.9 L839.5 1303.8 L842.5 1304.5 L845.5 1305.2 L848.5 1305.8 L851.5 1306.3 L854.5 1306.8 L857.5 1307.2 L860.5 1307.5 L863.5 1307.8 L866.5 1308.1 L869.5 1308.3 L872.5 1308.5 L875.5 1308.6 L878.5 1308.7 L881.5 1308.7 L884.5 1308.8 L887.5 1308.8 L890.5 1308.7 L893.5 1308.7 L896.5 1308.6 L899.5 1308.5 L902.5 1308.3 L905.5 1308.2 L908.5 1308.0 L911.5 1307.8 L914.5 1307.6 L917.5 1307.3 L920.5 1307.1 L923.5 1306.9 L926.5 1306.6 L929.5 1306.3 L932.5 1306.1 L935.5 1305.8 L938.5 1305.5 L941.5 1305.2 L944.5 1304.9 L947.5 1304.7 L950.5 1304.4 L953.5 1304.1 L956.5 1303.8 L959.5 1303.6 L962.5 1303.3 L965.5 1303.0 L968.5 1302.8 L971.5 1302.5 L974.5 1302.2 L977.5 1302.0 L980.5 1301.7 L983.5 1301.4 L986.5 1301.2 L989.5 1300.9 L992.5 1300.7 L995.5 1300.4 L998.5 1300.2 L1001.5 1299.9 L1004.5 1299.6 L1007.5 1299.4 L1010.5 1299.1 L1013.5 1298.9 L1016.5 1298.6 L1019.5 1298.4 L1022.5 1298.1 L1025.5 1297.9 L1028.5 1297.7 L1031.5 1297.4 L1034.5 1297.2 L1037.5 1296.9 L1040.5 1296.7 L1043.5 1296.4 L1046.5 1296.2 L1049.5 1295.9 L1052.5 1295.7 L1055.5 1295.5 L1058.5 1295.2 L1061.5 1295.0 L1064.5 1294.7 L1067.5 1294.5 L1070.5 1294.2 L1073.5 1294.0 L1076.5 1293.8 L1079.5 1293.5 L1082.5 1293.3 L1085.5 1293.0 L1088.5 1292.8 L1091.5 1292.6 L1094.5 1292.3 L1097.5 1292.1 L1100.5 1291.8 L1103.5 1291.6 L1106.5 1291.3 L1109.5 1291.1 L1112.5 1290.9 L1115.5 1290.6 L1118.5 1290.4 L1121.5 1290.1 L1124.5 1289.9 L1127.5 1289.6 L1130.5 1289.4 L1133.5 1289.2 L1136.5 1288.9 L1139.5 1288.7 L1142.5 1288.4 L1145.5 1288.2 L1148.5 1287.9 L1151.5 1287.7 L1154.5 1287.5 L1157.5 1287.2 L1160.5 1287.0 L1163.5 1286.7 L1166.5 1286.5 L1169.5 1286.2 L1172.5 1286.0 L1175.5 1285.8 L1178.5 1285.5 L1181.5 1285.3 L1184.5 1285.0 L1187.5 1284.8 L1190.5 1284.6 L1193.5 1284.3 L1196.5 1284.1 L1199.5 1283.9 L1202.5 1283.6 L1205.5 1283.4 L1208.5 1283.2 L1211.5 1282.9 L1214.5 1282.7 L1217.5 1282.5 L1220.5 1282.2 L1223.5 1282.0 L1226.5 1281.8 L1229.5 1281.5 L1232.5 1281.3 L1235.5 1281.1 L1238.5 1280.8 L1241.5 1280.6 L1244.5 1280.4 L1247.5 1280.2 L1250.5 1280.0 L1253.5 1279.7 L1256.5 1279.5 L1259.5 1279.3 L1262.5 1279.1 L1265.5 1278.9 L1268.5 1278.6 L1271.5 1278.4 L1274.5 1278.2 L1277.5 1278.0 L1280.5 1277.8 L1283.5 1277.6 L1286.5 1277.4 L1289.5 1277.2 L1292.5 1277.0 L1295.5 1276.8 L1298.5 1276.6 L1301.5 1276.4 L1304.5 1276.2 L1307.5 1276.0 L1310.5 1275.8 L1313.5 1275.6 L1316.5 1275.4 L1319.5 1275.2 L1322.5 1275.0 L1325.5 1274.8 L1328.5 1274.6 L1331.5 1274.4 L1334.5 1274.2 L1337.5 1274.1 L1340.5 1273.9 L1343.5 1273.7 L1346.5 1273.5 L1349.5 1273.4 L1352.5 1273.2 L1355.5 1273.0 L1358.5 1272.8 L1361.5 1272.7 L1364.5 1272.5 L1367.5 1272.4 L1370.5 1272.2 L1373.5 1272.0 L1376.5 1271.9 L1379.5 1271.7 L1382.5 1271.6 L1385.5 1271.4 L1388.5 1271.3 L1391.5 1271.1 L1394.5 1271.0 L1397.5 1270.9 L1400.5 1270.7 L1403.5 1270.6 L1406.5 1270.5 L1409.5 1270.3 L1412.5 1270.2 L1415.5 1270.1 L1418.5 1269.9 L1421.5 1269.8 L1424.5 1269.7 L1427.5 1269.6 L1430.5 1269.5 L1433.5 1269.4 L1436.5 1269.3 L1439.5 1269.2 L1442.5 1269.1 L1445.5 1269.0 L1448.5 1268.9 L1451.5 1268.8 L1454.5 1268.7 L1457.5 1268.6 L1460.5 1268.5 L1463.5 1268.4 L1466.5 1268.4 L1469.5 1268.3 L1472.5 1268.2 L1475.5 1268.1 L1478.5 1268.1 L1481.5 1268.0 L1484.5 1267.9 L1487.5 1267.9 L1490.5 1267.8 L1493.5 1267.8 L1496.5 1267.7 L1499.5 1267.7 L1502.5 1267.6 L1505.5 1267.6 L1508.5 1267.6 L1511.5 1267.5 L1514.5 1267.5 L1517.5 1267.5 L1520.5 1267.4 L1523.5 1267.4 L1526.5 1267.4 L1529.5 1267.4 L1532.5 1267.4 L1535.5 1267.3 L1538.5 1267.3 L1541.5 1267.3 L1544.5 1267.3 L1547.5 1267.3 L1550.5 1267.3 L1553.5 1267.3 L1556.5 1267.3 L1559.5 1267.3 L1562.5 1267.3 L1565.5 1267.3 L1568.5 1267.3 L1571.5 1267.3 L1574.5 1267.3 L1577.5 1267.4 L1580.5 1267.4 L1583.5 1267.4 L1586.5 1267.4 L1589.5 1267.4 L1592.5 1267.4 L1595.5 1267.5 L1598.5 1267.5 L1601.5 1267.5 L1604.5 1267.5 L1607.5 1267.6 L1610.5 1267.6 L1613.5 1267.6 L1616.5 1267.7 L1619.5 1267.7 L1622.5 1267.7 L1625.5 1267.7 L1628.5 1267.8 L1631.5 1267.8 L1634.5 1267.9 L1637.5 1267.9 L1640.5 1267.9 L1643.5 1268.0 L1646.5 1268.0 L1649.5 1268.0 L1652.5 1268.1 L1655.5 1268.1 L1658.5 1268.2 L1661.5 1268.2 L1664.5 1268.2 L1667.5 1268.3 L1670.5 1268.3 L1673.5 1268.4 L1676.5 1268.4 L1679.5 1268.4 L1682.5 1268.5 L1685.5 1268.5 L1688.5 1268.6 L1691.5 1268.6 L1694.5 1268.7 L1697.5 1268.7 L1700.5 1268.7 L1703.5 1268.8 L1706.5 1268.8 L1709.5 1268.9 L1712.5 1268.9 L1715.5 1268.9 L1718.5 1269.0 L1721.5 1269.0 L1724.5 1269.0 L1727.5 1269.1 L1730.5 1269.1 L1733.5 1269.2 L1736.5 1269.2 L1739.5 1269.2 L1742.5 1269.3 L1745.5 1269.3 L1748.5 1269.3 L1751.5 1269.3 L1754.5 1269.4 L1757.5 1269.4 L1760.5 1269.4 L1763.5 1269.4 L1766.5 1269.5 L1769.5 1269.5 L1772.5 1269.5 L1775.5 1269.5 L1778.5 1269.5 L1781.5 1269.6 L1784.5 1269.6 L1787.5 1269.6 L1790.5 1269.6 L1793.5 1269.6 L1796.5 1269.6 L1799.5 1269.6 L1802.5 1269.6 L1805.5 1269.6 L1808.5 1269.6 L1811.5 1269.6 L1814.5 1269.6 L1817.5 1269.6 L1820.5 1269.6 L1823.5 1269.6 L1826.5 1269.6 L1829.5 1269.6 L1832.5 1269.6 L1835.5 1269.5 L1838.5 1269.5 L1841.5 1269.5 L1844.5 1269.5 L1847.5 1269.4 L1850.5 1269.4 L1853.5 1269.4 L1856.5 1269.3 L1859.5 1269.3 L1862.5 1269.2 L1865.5 1269.2 L1868.5 1269.1 L1871.5 1269.1 L1874.5 1269.0 L1877.5 1269.0 L1880.5 1268.9 L1883.5 1268.9 L1886.5 1268.8 L1887.6 1268.8"/>
<text class="bi" font-size="73" transform="translate(920.5 129) scale(1 1.07)" text-anchor="start">TS</text>
<text class="bi" font-size="73" transform="translate(433.5 665) scale(1 1.07)" text-anchor="start">CS</text>
<text class="bi" font-size="73" transform="translate(1541.5 904.3) scale(1 1.07)" text-anchor="start">MC</text>
<path d="M1254 73.9 H1416" stroke="#515151" stroke-width="10" fill="none"/>
<text class="leg" x="1427.5" y="96.5">DMF 220 <tspan class="mu" font-size="78">μ</tspan>l AcOH</text>
<path d="M1254 156.4 H1416" stroke="#F14040" stroke-width="10" fill="none"/>
<text class="leg" x="1427.5" y="179.0">5 min 450 nm</text>
<path d="M1254 238.8 H1416" stroke="#1A6FDF" stroke-width="10" fill="none"/>
<text class="leg" x="1427.5" y="261.4">10 min</text>
<path d="M1254 321.2 H1416" stroke="#37AD6B" stroke-width="10" fill="none"/>
<text class="leg" x="1427.5" y="343.9">15 min</text>
<path d="M1254 403.7 H1416" stroke="#B177DE" stroke-width="10" fill="none"/>
<text class="leg" x="1427.5" y="426.3">20 min</text>
<path d="M1254 486.1 H1416" stroke="#CC9900" stroke-width="10" fill="none"/>
<text class="leg" x="1427.5" y="508.8">25 min</text>
<path d="M1254 568.6 H1416" stroke="#00CBCC" stroke-width="10" fill="none"/>
<text class="leg" x="1427.5" y="591.2">30 min</text>
<path d="M1254 651.0 H1416" stroke="#7D4E4E" stroke-width="10" fill="none"/>
<text class="leg" x="1427.5" y="673.6">40 min</text>
</svg></body></html>
